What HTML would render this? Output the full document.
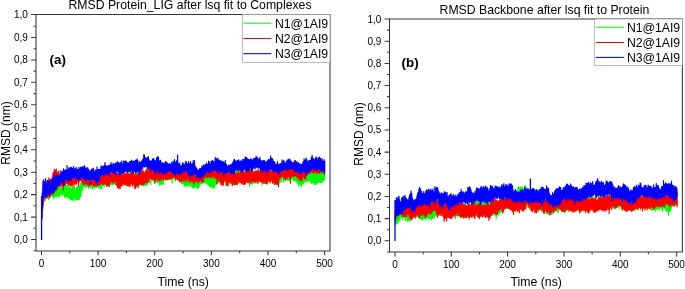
<!DOCTYPE html>
<html><head><meta charset="utf-8"><title>RMSD</title>
<style>
html,body{margin:0;padding:0;background:#fff;}
body{width:685px;height:289px;overflow:hidden;}
svg{display:block;font-family:"Liberation Sans",Arial,sans-serif;fill:#000;}
</style></head><body>
<svg width="685" height="289" viewBox="0 0 685 289">
<rect width="685" height="289" fill="#fff"/>
<g>
<polyline points="41.9,219.7 42.2,197.1 42.6,211.7 42.9,192.0 43.2,206.1 43.6,191.3 43.9,199.9 44.2,188.1 44.6,198.6 44.9,188.0 45.2,200.4 45.6,186.1 45.9,197.3 46.2,186.3 46.6,198.6 46.9,188.8 47.2,195.7 47.6,187.0 47.9,196.9 48.2,186.6 48.6,200.0 48.9,188.2 49.2,197.4 49.6,185.5 49.9,195.2 50.3,186.8 50.6,196.3 50.9,185.7 51.3,195.0 51.6,185.8 51.9,196.5 52.3,186.5 52.6,196.8 52.9,186.8 53.3,198.9 53.6,186.2 53.9,197.1 54.3,187.1 54.6,197.0 54.9,191.8 55.3,196.5 55.6,189.5 55.9,196.4 56.3,190.4 56.6,196.3 56.9,189.5 57.3,196.5 57.6,188.8 57.9,196.1 58.3,187.0 58.6,195.5 58.9,188.0 59.3,196.3 59.6,187.6 59.9,196.4 60.3,187.9 60.6,194.5 60.9,188.3 61.3,193.2 61.6,185.6 61.9,194.1 62.3,184.5 62.6,195.6 62.9,187.9 63.3,192.8 63.6,185.3 63.9,193.8 64.3,184.5 64.6,197.1 64.9,186.7 65.3,197.0 65.6,184.2 65.9,196.8 66.3,185.6 66.6,196.9 67.0,187.6 67.3,196.1 67.6,185.4 68.0,197.8 68.3,188.0 68.6,197.9 69.0,186.8 69.3,198.5 69.6,187.1 70.0,198.3 70.3,188.2 70.6,199.7 71.0,188.0 71.3,199.1 71.6,188.2 72.0,199.6 72.3,187.2 72.6,199.7 73.0,186.7 73.3,200.9 73.6,188.0 74.0,198.5 74.3,187.4 74.6,198.1 75.0,189.5 75.3,200.4 75.6,190.9 76.0,199.0 76.3,187.9 76.6,198.1 77.0,188.1 77.3,199.5 77.6,186.1 78.0,199.8 78.3,187.9 78.6,199.4 79.0,186.3 79.3,199.3 79.6,187.1 80.0,196.1 80.3,183.4 80.6,197.3 81.0,182.8 81.3,192.6 81.6,182.9 82.0,190.4 82.3,180.2 82.6,189.8 83.0,181.7 83.3,185.8 83.7,178.5 84.0,186.3 84.3,178.7 84.7,185.9 85.0,178.6 85.3,187.3 85.7,178.9 86.0,187.5 86.3,177.3 86.7,186.3 87.0,178.4 87.3,185.5 87.7,178.3 88.0,185.4 88.3,179.7 88.7,188.3 89.0,177.0 89.3,186.7 89.7,175.9 90.0,186.4 90.3,175.7 90.7,187.6 91.0,175.6 91.3,188.1 91.7,178.1 92.0,185.6 92.3,178.2 92.7,189.2 93.0,176.2 93.3,187.1 93.7,179.2 94.0,186.7 94.3,178.0 94.7,188.3 95.0,178.3 95.3,185.3 95.7,175.5 96.0,186.7 96.3,177.1 96.7,187.5 97.0,178.1 97.3,186.1 97.7,178.3 98.0,186.9 98.3,177.0 98.7,187.5 99.0,177.8 99.3,187.3 99.7,177.8 100.0,184.2 100.4,175.3 100.7,189.0 101.0,175.5 101.4,189.0 101.7,175.9 102.0,187.1 102.4,176.2 102.7,185.2 103.0,175.7 103.4,185.5 103.7,175.9 104.0,183.6 104.4,176.0 104.7,186.4 105.0,173.5 105.4,183.9 105.7,176.5 106.0,184.5 106.4,173.1 106.7,185.5 107.0,176.1 107.4,184.4 107.7,174.0 108.0,185.7 108.4,178.6 108.7,186.6 109.0,172.6 109.4,184.3 109.7,174.5 110.0,184.8 110.4,175.1 110.7,184.4 111.0,174.0 111.4,183.7 111.7,174.6 112.0,185.1 112.4,176.4 112.7,184.3 113.0,174.1 113.4,184.3 113.7,176.1 114.0,183.2 114.4,175.2 114.7,183.8 115.0,175.9 115.4,184.3 115.7,176.8 116.0,183.8 116.4,175.8 116.7,184.2 117.1,174.6 117.4,185.7 117.7,174.7 118.1,185.5 118.4,175.7 118.7,184.1 119.1,172.8 119.4,184.4 119.7,174.4 120.1,185.7 120.4,174.9 120.7,185.7 121.1,172.3 121.4,185.7 121.7,175.0 122.1,186.0 122.4,173.3 122.7,185.4 123.1,176.4 123.4,183.1 123.7,173.2 124.1,184.1 124.4,174.5 124.7,184.8 125.1,175.6 125.4,184.0 125.7,175.0 126.1,184.1 126.4,174.6 126.7,184.6 127.1,174.7 127.4,184.5 127.7,174.7 128.1,183.9 128.4,174.8 128.7,184.3 129.1,172.2 129.4,183.4 129.7,175.3 130.1,183.1 130.4,171.4 130.7,181.8 131.1,174.4 131.4,182.6 131.7,174.8 132.1,183.7 132.4,174.6 132.7,183.2 133.1,175.0 133.4,184.9 133.8,175.0 134.1,185.7 134.4,176.1 134.8,182.8 135.1,176.0 135.4,182.6 135.8,173.4 136.1,181.8 136.4,172.2 136.8,182.2 137.1,172.7 137.4,184.6 137.8,172.8 138.1,186.5 138.4,174.7 138.8,183.4 139.1,176.2 139.4,185.3 139.8,175.8 140.1,183.3 140.4,173.4 140.8,182.7 141.1,174.1 141.4,185.4 141.8,174.8 142.1,184.0 142.4,174.1 142.8,182.1 143.1,176.2 143.4,185.9 143.8,173.4 144.1,182.5 144.4,171.9 144.8,185.4 145.1,173.0 145.4,185.7 145.8,171.5 146.1,184.7 146.4,172.6 146.8,185.0 147.1,172.0 147.4,184.8 147.8,169.2 148.1,182.0 148.4,172.8 148.8,182.8 149.1,173.0 149.4,182.5 149.8,171.6 150.1,180.5 150.5,169.8 150.8,184.7 151.1,172.1 151.5,179.8 151.8,171.3 152.1,179.3 152.5,170.1 152.8,179.6 153.1,168.3 153.5,180.8 153.8,170.5 154.1,181.9 154.5,170.1 154.8,180.7 155.1,168.6 155.5,181.4 155.8,170.0 156.1,181.7 156.5,169.5 156.8,182.1 157.1,170.6 157.5,182.5 157.8,172.8 158.1,182.8 158.5,171.6 158.8,181.5 159.1,174.1 159.5,185.2 159.8,174.8 160.1,183.1 160.5,175.3 160.8,184.5 161.1,172.9 161.5,184.2 161.8,172.6 162.1,183.7 162.5,171.9 162.8,182.7 163.1,172.0 163.5,184.4 163.8,169.9 164.1,180.5 164.5,170.3 164.8,178.6 165.1,170.4 165.5,179.8 165.8,171.5 166.1,179.7 166.5,169.7 166.8,178.6 167.2,170.5 167.5,179.1 167.8,171.4 168.2,179.7 168.5,168.8 168.8,179.7 169.2,170.8 169.5,178.3 169.8,167.0 170.2,178.9 170.5,168.9 170.8,179.8 171.2,169.5 171.5,179.2 171.8,170.1 172.2,182.9 172.5,167.3 172.8,178.9 173.2,168.1 173.5,178.3 173.8,169.6 174.2,177.1 174.5,166.2 174.8,179.1 175.2,168.1 175.5,180.7 175.8,166.0 176.2,178.2 176.5,166.7 176.8,177.1 177.2,169.1 177.5,177.8 177.8,169.7 178.2,180.7 178.5,168.9 178.8,179.4 179.2,171.6 179.5,180.1 179.8,171.1 180.2,180.4 180.5,171.1 180.8,182.3 181.2,172.7 181.5,183.2 181.8,172.0 182.2,183.7 182.5,169.7 182.8,183.7 183.2,172.4 183.5,183.3 183.9,173.8 184.2,186.2 184.5,174.6 184.9,185.7 185.2,175.6 185.5,185.9 185.9,174.8 186.2,185.1 186.5,174.1 186.9,186.0 187.2,174.1 187.5,184.7 187.9,175.7 188.2,185.5 188.5,173.0 188.9,186.5 189.2,173.3 189.5,184.5 189.9,173.5 190.2,183.9 190.5,173.7 190.9,186.3 191.2,173.6 191.5,185.2 191.9,176.9 192.2,188.0 192.5,177.5 192.9,187.6 193.2,178.0 193.5,186.9 193.9,178.3 194.2,187.4 194.5,177.1 194.9,187.5 195.2,178.4 195.5,186.1 195.9,177.8 196.2,185.7 196.5,174.9 196.9,187.4 197.2,175.5 197.5,188.7 197.9,174.8 198.2,188.2 198.5,174.0 198.9,187.4 199.2,172.8 199.5,185.1 199.9,172.6 200.2,184.1 200.6,173.9 200.9,183.8 201.2,174.7 201.6,183.4 201.9,172.1 202.2,183.9 202.6,171.7 202.9,180.5 203.2,173.0 203.6,182.6 203.9,171.0 204.2,182.5 204.6,172.6 204.9,182.4 205.2,171.7 205.6,182.9 205.9,170.8 206.2,181.0 206.6,173.2 206.9,183.6 207.2,172.4 207.6,184.3 207.9,173.1 208.2,185.0 208.6,174.7 208.9,185.1 209.2,173.4 209.6,186.5 209.9,173.4 210.2,187.0 210.6,174.5 210.9,186.5 211.2,176.1 211.6,186.6 211.9,177.9 212.2,187.7 212.6,176.4 212.9,188.1 213.2,178.5 213.6,187.4 213.9,175.9 214.2,188.1 214.6,174.8 214.9,186.3 215.2,174.7 215.6,184.2 215.9,173.7 216.2,184.6 216.6,174.3 216.9,182.1 217.3,174.3 217.6,183.2 217.9,174.0 218.3,183.0 218.6,171.7 218.9,182.7 219.3,172.9 219.6,181.0 219.9,173.0 220.3,182.1 220.6,171.4 220.9,180.7 221.3,170.9 221.6,180.4 221.9,174.9 222.3,182.2 222.6,173.6 222.9,181.9 223.3,172.3 223.6,184.5 223.9,170.8 224.3,181.7 224.6,171.6 224.9,181.4 225.3,170.3 225.6,181.4 225.9,171.6 226.3,183.2 226.6,172.6 226.9,182.4 227.3,172.6 227.6,181.6 227.9,170.2 228.3,182.3 228.6,170.9 228.9,186.3 229.3,169.3 229.6,180.5 229.9,170.1 230.3,182.1 230.6,170.8 230.9,182.7 231.3,170.5 231.6,182.4 231.9,170.7 232.3,182.1 232.6,168.3 232.9,183.1 233.3,169.9 233.6,181.6 234.0,171.5 234.3,182.4 234.6,170.8 235.0,183.6 235.3,168.1 235.6,183.9 236.0,170.1 236.3,183.0 236.6,170.5 237.0,184.9 237.3,171.4 237.6,185.0 238.0,170.7 238.3,183.3 238.6,170.7 239.0,182.3 239.3,167.8 239.6,181.7 240.0,168.4 240.3,181.3 240.6,170.6 241.0,181.9 241.3,170.1 241.6,182.7 242.0,170.8 242.3,181.7 242.6,173.4 243.0,181.3 243.3,171.2 243.6,181.5 244.0,171.9 244.3,181.5 244.6,171.6 245.0,182.9 245.3,169.5 245.6,181.4 246.0,169.7 246.3,180.6 246.6,171.6 247.0,182.6 247.3,172.5 247.6,180.9 248.0,169.0 248.3,182.0 248.6,171.2 249.0,181.7 249.3,171.7 249.6,186.3 250.0,172.9 250.3,183.0 250.7,176.4 251.0,183.7 251.3,173.7 251.7,183.7 252.0,173.0 252.3,184.2 252.7,174.3 253.0,182.6 253.3,172.1 253.7,182.4 254.0,173.3 254.3,183.6 254.7,171.8 255.0,181.2 255.3,169.7 255.7,180.0 256.0,171.3 256.3,182.7 256.7,170.9 257.0,182.6 257.3,173.2 257.7,183.1 258.0,172.8 258.3,182.9 258.7,173.8 259.0,180.0 259.3,173.9 259.7,181.3 260.0,172.8 260.3,182.0 260.7,172.4 261.0,181.2 261.3,172.9 261.7,182.5 262.0,170.5 262.3,184.8 262.7,175.1 263.0,182.3 263.3,172.2 263.7,183.4 264.0,169.7 264.3,182.5 264.7,173.9 265.0,181.5 265.3,173.3 265.7,183.1 266.0,172.6 266.3,182.8 266.7,171.0 267.0,180.1 267.4,172.9 267.7,184.0 268.0,171.3 268.4,179.8 268.7,172.0 269.0,179.0 269.4,171.6 269.7,183.2 270.0,170.3 270.4,182.8 270.7,172.7 271.0,181.1 271.4,172.1 271.7,180.8 272.0,170.8 272.4,182.8 272.7,172.2 273.0,182.5 273.4,169.2 273.7,182.0 274.0,173.1 274.4,183.0 274.7,172.1 275.0,182.1 275.4,170.2 275.7,183.3 276.0,171.9 276.4,184.4 276.7,170.8 277.0,182.7 277.4,171.1 277.7,184.4 278.0,171.0 278.4,183.8 278.7,170.4 279.0,180.9 279.4,172.7 279.7,183.3 280.0,171.7 280.4,181.8 280.7,168.1 281.0,181.5 281.4,169.2 281.7,178.9 282.0,168.0 282.4,179.1 282.7,169.9 283.0,179.0 283.4,169.1 283.7,182.5 284.1,166.7 284.4,179.5 284.7,168.9 285.1,180.2 285.4,169.7 285.7,179.4 286.1,169.7 286.4,178.8 286.7,170.7 287.1,179.9 287.4,169.6 287.7,180.5 288.1,169.5 288.4,180.2 288.7,168.5 289.1,179.9 289.4,168.8 289.7,180.4 290.1,169.9 290.4,177.5 290.7,168.1 291.1,178.9 291.4,168.4 291.7,177.9 292.1,169.1 292.4,179.3 292.7,170.2 293.1,181.1 293.4,169.2 293.7,180.6 294.1,168.3 294.4,180.8 294.7,171.2 295.1,181.0 295.4,169.0 295.7,178.7 296.1,167.5 296.4,181.3 296.7,171.1 297.1,183.5 297.4,170.3 297.7,181.9 298.1,169.8 298.4,186.0 298.7,171.6 299.1,182.0 299.4,173.3 299.7,184.3 300.1,174.8 300.4,184.8 300.8,175.7 301.1,185.7 301.4,174.5 301.8,186.7 302.1,174.9 302.4,182.7 302.8,176.2 303.1,183.9 303.4,172.4 303.8,183.5 304.1,171.6 304.4,181.7 304.8,171.8 305.1,179.2 305.4,172.0 305.8,181.2 306.1,171.1 306.4,181.7 306.8,171.9 307.1,181.9 307.4,171.7 307.8,180.8 308.1,170.7 308.4,180.4 308.8,168.6 309.1,180.9 309.4,170.1 309.8,180.4 310.1,168.7 310.4,181.4 310.8,171.5 311.1,183.0 311.4,173.2 311.8,183.5 312.1,171.0 312.4,183.3 312.8,169.2 313.1,182.6 313.4,173.2 313.8,181.6 314.1,170.7 314.4,184.0 314.8,169.3 315.1,184.5 315.4,169.6 315.8,184.8 316.1,172.3 316.4,183.8 316.8,172.8 317.1,182.8 317.5,171.1 317.8,182.7 318.1,175.1 318.5,182.2 318.8,173.1 319.1,182.6 319.5,171.9 319.8,181.5 320.1,172.9 320.5,182.5 320.8,172.1 321.1,182.7 321.5,171.4 321.8,178.5 322.1,170.5 322.5,182.4 322.8,168.4 323.1,181.1 323.5,169.4 323.8,180.1 324.1,170.1 324.5,179.6 324.8,169.9" fill="none" stroke="#00ff00" stroke-width="1.15" stroke-linejoin="round"/>
<polyline points="41.9,218.7 42.2,196.7 42.6,209.6 42.9,191.5 43.2,204.2 43.6,187.0 43.9,201.6 44.2,183.3 44.6,198.0 44.9,182.7 45.2,197.9 45.6,182.6 45.9,196.3 46.2,183.3 46.6,196.8 46.9,180.7 47.2,197.8 47.6,180.5 47.9,195.8 48.2,180.1 48.6,195.3 48.9,177.7 49.2,197.8 49.6,182.5 49.9,197.2 50.3,179.1 50.6,195.3 50.9,180.1 51.3,193.4 51.6,179.2 51.9,193.8 52.3,177.2 52.6,194.5 52.9,173.3 53.3,193.7 53.6,172.2 53.9,192.9 54.3,169.3 54.6,188.7 54.9,169.9 55.3,189.9 55.6,170.7 55.9,188.2 56.3,169.1 56.6,189.4 56.9,172.2 57.3,188.9 57.6,174.0 57.9,186.2 58.3,171.3 58.6,186.6 58.9,171.3 59.3,185.7 59.6,177.1 59.9,186.1 60.3,174.4 60.6,186.3 60.9,173.1 61.3,184.6 61.6,172.9 61.9,184.9 62.3,173.3 62.6,185.3 62.9,173.4 63.3,190.1 63.6,174.9 63.9,185.6 64.3,175.4 64.6,185.0 64.9,171.8 65.3,183.7 65.6,170.6 65.9,183.9 66.3,172.0 66.6,183.0 67.0,174.2 67.3,183.4 67.6,173.7 68.0,185.1 68.3,175.3 68.6,185.1 69.0,174.1 69.3,184.9 69.6,170.8 70.0,184.2 70.3,172.9 70.6,186.2 71.0,172.3 71.3,185.7 71.6,174.1 72.0,185.6 72.3,173.0 72.6,185.1 73.0,172.0 73.3,182.1 73.6,169.3 74.0,186.7 74.3,173.8 74.6,181.9 75.0,172.2 75.3,183.9 75.6,171.7 76.0,184.1 76.3,170.5 76.6,183.9 77.0,172.7 77.3,181.7 77.6,169.9 78.0,181.7 78.3,172.2 78.6,185.9 79.0,171.5 79.3,181.6 79.6,172.6 80.0,179.6 80.3,172.0 80.6,180.4 81.0,169.8 81.3,180.7 81.6,170.8 82.0,182.6 82.3,170.2 82.6,182.8 83.0,171.0 83.3,185.0 83.7,170.5 84.0,183.4 84.3,170.9 84.7,184.0 85.0,169.7 85.3,184.6 85.7,169.2 86.0,182.7 86.3,167.5 86.7,184.1 87.0,170.9 87.3,183.6 87.7,172.1 88.0,186.4 88.3,174.1 88.7,184.3 89.0,172.8 89.3,185.8 89.7,172.8 90.0,185.0 90.3,174.1 90.7,184.4 91.0,173.6 91.3,184.4 91.7,173.0 92.0,184.7 92.3,170.8 92.7,183.7 93.0,174.0 93.3,186.2 93.7,174.5 94.0,185.3 94.3,173.1 94.7,186.0 95.0,171.5 95.3,185.0 95.7,175.6 96.0,186.2 96.3,175.9 96.7,182.7 97.0,174.0 97.3,185.3 97.7,174.8 98.0,185.6 98.3,172.6 98.7,183.8 99.0,175.4 99.3,185.1 99.7,172.6 100.0,184.8 100.4,173.0 100.7,182.6 101.0,174.0 101.4,184.0 101.7,172.7 102.0,183.3 102.4,168.9 102.7,184.2 103.0,174.0 103.4,184.5 103.7,171.7 104.0,183.2 104.4,173.5 104.7,183.6 105.0,172.3 105.4,184.5 105.7,173.9 106.0,184.1 106.4,173.2 106.7,186.3 107.0,173.0 107.4,184.5 107.7,170.3 108.0,186.1 108.4,172.8 108.7,183.2 109.0,171.9 109.4,186.6 109.7,173.2 110.0,182.8 110.4,173.0 110.7,182.0 111.0,172.0 111.4,181.4 111.7,172.3 112.0,182.0 112.4,170.7 112.7,182.9 113.0,171.7 113.4,182.2 113.7,171.3 114.0,182.6 114.4,169.0 114.7,180.6 115.0,172.6 115.4,180.4 115.7,172.0 116.0,184.9 116.4,173.9 116.7,184.7 117.1,174.3 117.4,187.4 117.7,174.3 118.1,187.1 118.4,174.6 118.7,188.8 119.1,173.9 119.4,187.0 119.7,173.8 120.1,188.4 120.4,171.7 120.7,186.3 121.1,174.8 121.4,184.4 121.7,174.7 122.1,185.7 122.4,172.9 122.7,182.3 123.1,174.9 123.4,183.6 123.7,175.9 124.1,184.9 124.4,170.4 124.7,183.9 125.1,175.7 125.4,184.1 125.7,173.3 126.1,185.3 126.4,175.5 126.7,184.1 127.1,171.6 127.4,185.7 127.7,171.1 128.1,185.1 128.4,173.9 128.7,185.7 129.1,173.8 129.4,186.3 129.7,175.0 130.1,186.6 130.4,173.8 130.7,184.0 131.1,172.5 131.4,181.5 131.7,172.5 132.1,184.8 132.4,170.5 132.7,186.3 133.1,169.0 133.4,184.1 133.8,173.9 134.1,184.3 134.4,174.7 134.8,188.2 135.1,175.3 135.4,188.6 135.8,173.3 136.1,186.7 136.4,174.7 136.8,185.3 137.1,174.7 137.4,185.9 137.8,175.2 138.1,188.0 138.4,172.4 138.8,184.7 139.1,172.7 139.4,183.4 139.8,172.0 140.1,184.1 140.4,174.2 140.8,184.5 141.1,172.8 141.4,183.9 141.8,169.3 142.1,185.1 142.4,173.0 142.8,184.6 143.1,170.0 143.4,184.6 143.8,172.3 144.1,184.4 144.4,172.8 144.8,183.2 145.1,173.0 145.4,182.3 145.8,170.7 146.1,182.6 146.4,168.9 146.8,183.0 147.1,170.6 147.4,181.6 147.8,172.2 148.1,182.2 148.4,167.8 148.8,180.6 149.1,168.0 149.4,178.2 149.8,167.4 150.1,178.0 150.5,167.1 150.8,178.4 151.1,167.1 151.5,179.1 151.8,168.2 152.1,179.6 152.5,167.2 152.8,179.3 153.1,166.2 153.5,179.2 153.8,167.4 154.1,179.4 154.5,168.2 154.8,183.5 155.1,168.2 155.5,181.2 155.8,168.6 156.1,179.5 156.5,169.1 156.8,178.1 157.1,167.6 157.5,178.4 157.8,168.9 158.1,180.7 158.5,165.7 158.8,180.5 159.1,170.3 159.5,179.8 159.8,167.5 160.1,180.6 160.5,168.9 160.8,178.5 161.1,169.6 161.5,180.1 161.8,169.1 162.1,179.8 162.5,168.7 162.8,178.9 163.1,168.5 163.5,179.5 163.8,169.3 164.1,177.6 164.5,168.3 164.8,178.4 165.1,169.7 165.5,179.3 165.8,169.0 166.1,180.1 166.5,170.3 166.8,178.3 167.2,168.6 167.5,179.6 167.8,168.5 168.2,178.8 168.5,168.9 168.8,178.8 169.2,167.1 169.5,179.1 169.8,166.1 170.2,178.7 170.5,166.7 170.8,178.7 171.2,168.4 171.5,177.4 171.8,167.6 172.2,176.7 172.5,168.0 172.8,177.8 173.2,166.5 173.5,176.1 173.8,164.8 174.2,177.4 174.5,167.2 174.8,177.2 175.2,168.0 175.5,179.5 175.8,166.6 176.2,177.8 176.5,167.3 176.8,178.9 177.2,166.4 177.5,179.9 177.8,168.4 178.2,178.2 178.5,165.8 178.8,179.2 179.2,164.7 179.5,181.6 179.8,167.4 180.2,179.4 180.5,167.1 180.8,181.4 181.2,169.5 181.5,181.2 181.8,168.7 182.2,181.3 182.5,171.2 182.8,180.7 183.2,169.0 183.5,180.3 183.9,168.6 184.2,180.7 184.5,170.9 184.9,180.0 185.2,170.5 185.5,179.6 185.9,171.9 186.2,182.0 186.5,170.4 186.9,179.7 187.2,171.3 187.5,177.6 187.9,170.3 188.2,179.2 188.5,167.2 188.9,181.8 189.2,172.1 189.5,178.7 189.9,167.9 190.2,181.4 190.5,167.2 190.9,182.1 191.2,169.1 191.5,180.8 191.9,171.6 192.2,180.0 192.5,171.3 192.9,181.6 193.2,170.2 193.5,182.7 193.9,171.1 194.2,184.0 194.5,170.6 194.9,180.9 195.2,169.4 195.5,181.0 195.9,169.5 196.2,181.8 196.5,170.1 196.9,181.2 197.2,169.0 197.5,181.3 197.9,171.0 198.2,183.2 198.5,169.8 198.9,178.9 199.2,171.2 199.5,181.5 199.9,168.3 200.2,180.3 200.6,169.0 200.9,180.4 201.2,169.8 201.6,182.1 201.9,170.8 202.2,180.7 202.6,169.5 202.9,182.1 203.2,168.8 203.6,181.5 203.9,168.9 204.2,177.8 204.6,166.4 204.9,176.2 205.2,164.9 205.6,176.5 205.9,167.2 206.2,177.7 206.6,167.8 206.9,177.2 207.2,166.2 207.6,177.0 207.9,168.1 208.2,176.6 208.6,167.3 208.9,176.3 209.2,165.6 209.6,177.8 209.9,166.2 210.2,176.8 210.6,166.5 210.9,178.0 211.2,166.9 211.6,175.7 211.9,166.9 212.2,176.5 212.6,167.6 212.9,178.0 213.2,165.6 213.6,175.7 213.9,167.5 214.2,176.0 214.6,166.6 214.9,178.6 215.2,166.7 215.6,177.4 215.9,166.7 216.2,179.2 216.6,168.2 216.9,184.0 217.3,171.6 217.6,178.9 217.9,170.6 218.3,179.2 218.6,170.1 218.9,181.3 219.3,169.7 219.6,178.6 219.9,168.7 220.3,182.2 220.6,171.5 220.9,184.7 221.3,171.9 221.6,184.0 221.9,173.1 222.3,185.7 222.6,173.1 222.9,184.5 223.3,173.6 223.6,184.7 223.9,172.8 224.3,180.6 224.6,173.9 224.9,180.0 225.3,171.4 225.6,180.9 225.9,172.7 226.3,185.8 226.6,170.8 226.9,184.2 227.3,169.9 227.6,185.4 227.9,173.2 228.3,183.2 228.6,174.3 228.9,180.4 229.3,173.9 229.6,181.8 229.9,172.7 230.3,182.7 230.6,172.5 230.9,183.7 231.3,171.7 231.6,180.0 231.9,171.7 232.3,185.7 232.6,172.2 232.9,184.4 233.3,171.3 233.6,181.9 234.0,170.6 234.3,184.8 234.6,171.4 235.0,184.4 235.3,173.7 235.6,179.6 236.0,174.0 236.3,184.4 236.6,172.9 237.0,184.1 237.3,174.2 237.6,183.8 238.0,172.9 238.3,180.6 238.6,171.6 239.0,180.8 239.3,173.9 239.6,182.7 240.0,173.3 240.3,182.1 240.6,171.0 241.0,182.7 241.3,172.2 241.6,184.0 242.0,171.5 242.3,183.0 242.6,171.1 243.0,183.8 243.3,173.9 243.6,184.5 244.0,172.8 244.3,183.9 244.6,173.5 245.0,184.3 245.3,171.9 245.6,183.5 246.0,170.8 246.3,181.7 246.6,171.2 247.0,180.1 247.3,170.6 247.6,182.4 248.0,170.6 248.3,182.7 248.6,172.0 249.0,182.6 249.3,170.4 249.6,181.4 250.0,169.5 250.3,180.4 250.7,169.9 251.0,183.1 251.3,170.1 251.7,182.0 252.0,172.2 252.3,180.7 252.7,169.8 253.0,181.3 253.3,172.3 253.7,180.4 254.0,172.0 254.3,181.2 254.7,171.5 255.0,182.0 255.3,172.8 255.7,182.2 256.0,171.6 256.3,180.4 256.7,171.4 257.0,180.9 257.3,170.4 257.7,183.2 258.0,169.6 258.3,179.4 258.7,171.4 259.0,181.2 259.3,171.0 259.7,180.8 260.0,172.0 260.3,181.6 260.7,171.2 261.0,181.0 261.3,170.7 261.7,181.9 262.0,173.2 262.3,182.8 262.7,172.2 263.0,180.5 263.3,170.9 263.7,182.9 264.0,168.4 264.3,182.8 264.7,169.1 265.0,183.1 265.3,172.8 265.7,183.3 266.0,171.3 266.3,183.5 266.7,172.5 267.0,184.0 267.4,171.2 267.7,182.3 268.0,169.1 268.4,181.2 268.7,172.4 269.0,179.0 269.4,171.0 269.7,181.0 270.0,169.6 270.4,182.1 270.7,171.0 271.0,180.2 271.4,171.4 271.7,178.5 272.0,169.3 272.4,183.2 272.7,171.9 273.0,182.3 273.4,172.5 273.7,182.1 274.0,171.2 274.4,184.5 274.7,170.4 275.0,183.2 275.4,171.8 275.7,184.1 276.0,172.2 276.4,183.2 276.7,173.2 277.0,184.5 277.4,173.9 277.7,182.5 278.0,174.8 278.4,187.1 278.7,172.8 279.0,180.1 279.4,164.9 279.7,178.1 280.0,168.3 280.4,178.0 280.7,166.2 281.0,176.3 281.4,168.4 281.7,176.2 282.0,166.3 282.4,176.3 282.7,166.8 283.0,176.9 283.4,163.6 283.7,178.0 284.1,167.6 284.4,176.7 284.7,166.3 285.1,179.9 285.4,164.3 285.7,179.7 286.1,165.3 286.4,177.3 286.7,166.0 287.1,177.0 287.4,164.8 287.7,178.4 288.1,167.4 288.4,176.7 288.7,168.5 289.1,176.1 289.4,165.3 289.7,177.8 290.1,167.8 290.4,183.3 290.7,168.1 291.1,176.2 291.4,169.8 291.7,176.9 292.1,165.8 292.4,175.9 292.7,169.4 293.1,176.3 293.4,168.2 293.7,175.2 294.1,163.7 294.4,176.5 294.7,160.3 295.1,175.6 295.4,161.1 295.7,175.3 296.1,165.3 296.4,176.6 296.7,164.7 297.1,177.7 297.4,165.8 297.7,176.6 298.1,168.2 298.4,177.9 298.7,165.3 299.1,179.9 299.4,165.3 299.7,178.8 300.1,169.9 300.4,179.5 300.8,167.8 301.1,181.2 301.4,166.7 301.8,179.8 302.1,167.6 302.4,180.1 302.8,166.4 303.1,176.8 303.4,165.4 303.8,176.4 304.1,166.8 304.4,178.2 304.8,168.0 305.1,178.3 305.4,167.5 305.8,179.3 306.1,166.9 306.4,175.8 306.8,166.2 307.1,175.3 307.4,161.8 307.8,173.0 308.1,161.1 308.4,172.9 308.8,163.5 309.1,173.8 309.4,161.7 309.8,172.3 310.1,162.8 310.4,173.1 310.8,163.4 311.1,171.4 311.4,160.3 311.8,172.0 312.1,160.1 312.4,172.1 312.8,158.9 313.1,172.2 313.4,158.5 313.8,173.3 314.1,162.6 314.4,173.2 314.8,160.8 315.1,171.1 315.4,159.8 315.8,171.1 316.1,161.2 316.4,172.6 316.8,159.3 317.1,173.5 317.5,161.1 317.8,172.2 318.1,161.5 318.5,172.9 318.8,160.7 319.1,172.2 319.5,162.4 319.8,173.6 320.1,161.4 320.5,171.4 320.8,161.6 321.1,169.8 321.5,163.7 321.8,172.8 322.1,161.8 322.5,172.0 322.8,161.4 323.1,172.3 323.5,162.0 323.8,170.4 324.1,162.8 324.5,171.1 324.8,165.2" fill="none" stroke="#ff0000" stroke-width="1.15" stroke-linejoin="round"/>
<polyline points="41.9,218.4 42.2,193.0 42.6,208.1 42.9,181.3 43.2,198.8 43.6,179.8 43.9,196.4 44.2,183.1 44.6,196.6 44.9,181.4 45.2,196.7 45.6,178.5 45.9,196.1 46.2,183.7 46.6,196.7 46.9,184.5 47.2,193.6 47.6,180.6 47.9,195.4 48.2,181.7 48.6,194.7 48.9,182.8 49.2,194.5 49.6,180.5 49.9,193.7 50.3,182.8 50.6,193.7 50.9,183.5 51.3,193.3 51.6,179.5 51.9,192.1 52.3,180.2 52.6,192.7 52.9,178.6 53.3,191.7 53.6,177.9 53.9,190.5 54.3,174.2 54.6,192.1 54.9,176.6 55.3,187.9 55.6,175.8 55.9,190.0 56.3,174.7 56.6,187.5 56.9,177.4 57.3,186.3 57.6,176.4 57.9,183.8 58.3,175.8 58.6,186.0 58.9,175.6 59.3,185.5 59.6,175.7 59.9,183.3 60.3,173.8 60.6,180.3 60.9,170.5 61.3,182.1 61.6,172.8 61.9,183.0 62.3,171.9 62.6,181.0 62.9,171.6 63.3,183.1 63.6,168.7 63.9,185.7 64.3,171.2 64.6,181.8 64.9,170.4 65.3,179.3 65.6,169.9 65.9,178.9 66.3,170.7 66.6,178.1 67.0,165.6 67.3,179.7 67.6,169.7 68.0,180.8 68.3,169.3 68.6,180.5 69.0,167.7 69.3,178.5 69.6,168.9 70.0,180.7 70.3,167.3 70.6,179.8 71.0,169.0 71.3,179.8 71.6,167.4 72.0,177.4 72.3,168.6 72.6,177.4 73.0,168.4 73.3,178.0 73.6,166.6 74.0,177.1 74.3,169.6 74.6,177.3 75.0,168.4 75.3,178.6 75.6,170.0 76.0,178.2 76.3,167.4 76.6,178.6 77.0,170.4 77.3,178.6 77.6,169.3 78.0,178.2 78.3,170.2 78.6,179.7 79.0,167.4 79.3,179.8 79.6,169.8 80.0,180.0 80.3,167.8 80.6,177.1 81.0,167.1 81.3,176.9 81.6,168.3 82.0,177.7 82.3,166.8 82.6,178.2 83.0,166.8 83.3,177.4 83.7,169.2 84.0,177.8 84.3,165.6 84.7,179.7 85.0,167.0 85.3,179.6 85.7,168.6 86.0,179.8 86.3,168.5 86.7,180.1 87.0,171.4 87.3,178.9 87.7,167.7 88.0,178.7 88.3,169.0 88.7,179.5 89.0,170.1 89.3,179.3 89.7,172.2 90.0,183.7 90.3,171.1 90.7,178.5 91.0,170.3 91.3,179.3 91.7,169.0 92.0,179.6 92.3,169.5 92.7,177.1 93.0,168.1 93.3,179.2 93.7,169.0 94.0,179.1 94.3,171.6 94.7,179.3 95.0,171.6 95.3,180.6 95.7,169.9 96.0,181.8 96.3,170.7 96.7,181.3 97.0,166.8 97.3,184.6 97.7,169.6 98.0,181.6 98.3,170.1 98.7,181.4 99.0,169.4 99.3,179.1 99.7,169.5 100.0,177.7 100.4,169.1 100.7,175.4 101.0,165.9 101.4,174.4 101.7,167.4 102.0,175.0 102.4,166.7 102.7,174.5 103.0,166.0 103.4,175.7 103.7,166.7 104.0,174.6 104.4,165.3 104.7,174.9 105.0,162.6 105.4,173.7 105.7,165.5 106.0,172.6 106.4,167.4 106.7,172.7 107.0,166.1 107.4,174.6 107.7,167.4 108.0,173.6 108.4,165.1 108.7,172.4 109.0,166.0 109.4,176.1 109.7,165.5 110.0,172.3 110.4,164.7 110.7,170.8 111.0,162.6 111.4,171.4 111.7,164.7 112.0,171.8 112.4,165.7 112.7,173.0 113.0,163.6 113.4,171.8 113.7,163.3 114.0,172.6 114.4,164.9 114.7,173.7 115.0,164.1 115.4,172.0 115.7,163.1 116.0,174.9 116.4,163.0 116.7,170.1 117.1,162.6 117.4,171.1 117.7,161.8 118.1,174.6 118.4,162.5 118.7,170.6 119.1,163.1 119.4,172.6 119.7,163.9 120.1,174.3 120.4,162.6 120.7,174.0 121.1,164.2 121.4,172.4 121.7,160.8 122.1,173.3 122.4,163.9 122.7,169.8 123.1,164.0 123.4,173.0 123.7,161.0 124.1,171.8 124.4,161.3 124.7,170.0 125.1,161.4 125.4,171.4 125.7,160.8 126.1,170.9 126.4,161.5 126.7,170.4 127.1,162.9 127.4,172.5 127.7,163.3 128.1,171.4 128.4,162.8 128.7,171.5 129.1,164.3 129.4,171.3 129.7,161.3 130.1,171.2 130.4,161.9 130.7,171.2 131.1,161.0 131.4,170.4 131.7,160.2 132.1,171.9 132.4,161.9 132.7,171.7 133.1,161.2 133.4,173.4 133.8,161.2 134.1,169.3 134.4,162.9 134.8,171.4 135.1,160.7 135.4,173.3 135.8,160.0 136.1,171.1 136.4,160.8 136.8,172.3 137.1,158.9 137.4,172.0 137.8,160.4 138.1,171.0 138.4,163.2 138.8,170.3 139.1,162.8 139.4,174.9 139.8,161.4 140.1,172.4 140.4,163.1 140.8,171.1 141.1,162.1 141.4,169.5 141.8,161.1 142.1,168.0 142.4,159.9 142.8,168.4 143.1,159.2 143.4,166.3 143.8,154.5 144.1,166.4 144.4,155.1 144.8,167.2 145.1,157.7 145.4,165.6 145.8,157.7 146.1,166.5 146.4,157.9 146.8,166.4 147.1,158.7 147.4,168.2 147.8,157.3 148.1,168.6 148.4,156.6 148.8,167.0 149.1,159.8 149.4,168.1 149.8,160.9 150.1,168.3 150.5,161.4 150.8,169.2 151.1,161.6 151.5,170.6 151.8,160.5 152.1,168.0 152.5,159.4 152.8,169.3 153.1,158.3 153.5,170.9 153.8,158.7 154.1,169.2 154.5,160.2 154.8,171.9 155.1,161.0 155.5,174.0 155.8,160.9 156.1,172.6 156.5,157.8 156.8,171.8 157.1,157.7 157.5,169.1 157.8,156.6 158.1,167.9 158.5,157.2 158.8,173.2 159.1,162.0 159.5,171.7 159.8,160.8 160.1,170.7 160.5,160.2 160.8,172.0 161.1,161.9 161.5,172.2 161.8,164.4 162.1,173.6 162.5,163.1 162.8,174.5 163.1,162.7 163.5,171.0 163.8,163.9 164.1,172.3 164.5,164.3 164.8,174.1 165.1,162.4 165.5,173.0 165.8,161.6 166.1,172.5 166.5,162.2 166.8,172.9 167.2,162.9 167.5,169.5 167.8,165.0 168.2,171.6 168.5,164.3 168.8,170.8 169.2,163.8 169.5,170.6 169.8,163.5 170.2,170.5 170.5,164.1 170.8,171.1 171.2,165.8 171.5,172.1 171.8,162.1 172.2,170.1 172.5,163.5 172.8,172.4 173.2,161.3 173.5,174.1 173.8,163.8 174.2,174.4 174.5,159.5 174.8,173.1 175.2,162.2 175.5,176.0 175.8,163.4 176.2,172.6 176.5,160.8 176.8,172.4 177.2,162.9 177.5,174.2 177.8,163.3 178.2,171.5 178.5,163.3 178.8,173.1 179.2,164.6 179.5,173.6 179.8,163.0 180.2,174.6 180.5,166.8 180.8,170.7 181.2,165.6 181.5,173.4 181.8,165.5 182.2,171.5 182.5,162.9 182.8,171.0 183.2,163.2 183.5,170.7 183.9,164.6 184.2,173.1 184.5,165.8 184.9,169.7 185.2,163.2 185.5,170.0 185.9,161.4 186.2,171.4 186.5,162.1 186.9,170.3 187.2,165.4 187.5,171.1 187.9,164.1 188.2,175.1 188.5,161.7 188.9,174.9 189.2,163.3 189.5,173.9 189.9,165.5 190.2,178.0 190.5,161.6 190.9,174.3 191.2,166.2 191.5,174.6 191.9,163.7 192.2,175.4 192.5,163.9 192.9,176.0 193.2,160.7 193.5,172.3 193.9,163.8 194.2,173.9 194.5,162.5 194.9,173.7 195.2,166.1 195.5,174.3 195.9,167.9 196.2,175.0 196.5,167.7 196.9,177.5 197.2,171.1 197.5,177.8 197.9,170.7 198.2,176.3 198.5,171.5 198.9,177.2 199.2,169.7 199.5,176.5 199.9,168.6 200.2,178.7 200.6,169.4 200.9,177.1 201.2,168.4 201.6,176.4 201.9,166.0 202.2,176.1 202.6,167.5 202.9,175.2 203.2,165.5 203.6,176.0 203.9,164.8 204.2,174.0 204.6,166.2 204.9,174.6 205.2,165.2 205.6,173.5 205.9,164.4 206.2,172.4 206.6,162.9 206.9,171.6 207.2,164.8 207.6,170.5 207.9,164.6 208.2,171.3 208.6,161.2 208.9,173.0 209.2,161.8 209.6,171.6 209.9,163.6 210.2,170.3 210.6,163.9 210.9,172.2 211.2,161.1 211.6,171.6 211.9,161.8 212.2,169.8 212.6,160.4 212.9,170.6 213.2,161.3 213.6,168.5 213.9,162.6 214.2,170.1 214.6,161.8 214.9,169.1 215.2,157.4 215.6,169.3 215.9,159.1 216.2,171.6 216.6,158.5 216.9,171.1 217.3,160.4 217.6,172.4 217.9,158.1 218.3,168.9 218.6,160.2 218.9,173.5 219.3,160.0 219.6,169.0 219.9,161.0 220.3,171.8 220.6,160.7 220.9,171.0 221.3,162.1 221.6,171.8 221.9,161.0 222.3,172.3 222.6,162.6 222.9,171.4 223.3,161.7 223.6,175.6 223.9,162.3 224.3,173.2 224.6,164.0 224.9,171.7 225.3,160.4 225.6,173.1 225.9,164.9 226.3,171.4 226.6,164.3 226.9,172.0 227.3,166.3 227.6,172.7 227.9,166.5 228.3,172.1 228.6,165.3 228.9,171.8 229.3,165.5 229.6,171.6 229.9,165.1 230.3,172.1 230.6,164.7 230.9,173.3 231.3,165.0 231.6,173.5 231.9,163.9 232.3,171.9 232.6,163.2 232.9,173.5 233.3,161.4 233.6,174.2 234.0,159.6 234.3,172.3 234.6,159.4 235.0,170.3 235.3,161.1 235.6,169.6 236.0,160.8 236.3,170.4 236.6,161.5 237.0,168.4 237.3,160.7 237.6,170.0 238.0,160.6 238.3,170.2 238.6,159.7 239.0,170.0 239.3,161.2 239.6,168.4 240.0,162.1 240.3,170.6 240.6,160.9 241.0,169.2 241.3,161.0 241.6,170.8 242.0,162.4 242.3,171.9 242.6,159.5 243.0,172.1 243.3,159.2 243.6,169.8 244.0,161.3 244.3,169.5 244.6,159.4 245.0,169.5 245.3,156.8 245.6,170.3 246.0,157.6 246.3,170.4 246.6,157.6 247.0,171.4 247.3,158.7 247.6,169.7 248.0,159.0 248.3,168.9 248.6,159.5 249.0,171.5 249.3,159.7 249.6,168.1 250.0,160.2 250.3,167.2 250.7,158.7 251.0,169.4 251.3,160.7 251.7,169.8 252.0,159.1 252.3,170.8 252.7,160.7 253.0,168.1 253.3,159.9 253.7,168.2 254.0,158.2 254.3,165.2 254.7,158.6 255.0,168.8 255.3,158.3 255.7,165.1 256.0,156.5 256.3,167.8 256.7,156.6 257.0,166.7 257.3,158.6 257.7,167.1 258.0,158.0 258.3,168.1 258.7,161.0 259.0,167.9 259.3,159.1 259.7,168.0 260.0,157.2 260.3,170.7 260.7,160.5 261.0,170.2 261.3,160.6 261.7,170.1 262.0,161.9 262.3,172.3 262.7,161.0 263.0,171.1 263.3,160.4 263.7,169.6 264.0,160.4 264.3,167.6 264.7,160.9 265.0,171.7 265.3,162.6 265.7,170.0 266.0,162.0 266.3,170.5 266.7,161.3 267.0,173.2 267.4,161.3 267.7,170.8 268.0,159.8 268.4,171.0 268.7,159.5 269.0,169.9 269.4,160.2 269.7,168.8 270.0,159.2 270.4,169.4 270.7,155.8 271.0,169.2 271.4,158.5 271.7,169.0 272.0,158.4 272.4,170.0 272.7,159.1 273.0,170.6 273.4,161.0 273.7,171.5 274.0,162.9 274.4,170.6 274.7,161.9 275.0,171.6 275.4,164.5 275.7,171.2 276.0,164.3 276.4,171.0 276.7,164.8 277.0,172.3 277.4,161.6 277.7,173.1 278.0,163.8 278.4,172.9 278.7,164.9 279.0,174.7 279.4,165.2 279.7,172.4 280.0,163.6 280.4,171.7 280.7,163.5 281.0,170.4 281.4,163.5 281.7,170.8 282.0,159.9 282.4,169.7 282.7,162.3 283.0,170.6 283.4,161.0 283.7,170.1 284.1,160.7 284.4,169.4 284.7,163.4 285.1,168.5 285.4,163.6 285.7,168.4 286.1,161.4 286.4,170.4 286.7,163.2 287.1,168.9 287.4,159.8 287.7,170.6 288.1,160.5 288.4,169.3 288.7,159.3 289.1,169.5 289.4,159.1 289.7,167.5 290.1,159.9 290.4,168.0 290.7,161.5 291.1,168.8 291.4,161.3 291.7,169.0 292.1,162.5 292.4,168.2 292.7,163.2 293.1,169.1 293.4,162.3 293.7,169.7 294.1,163.2 294.4,168.5 294.7,162.3 295.1,172.2 295.4,160.7 295.7,171.7 296.1,162.5 296.4,172.6 296.7,161.6 297.1,170.1 297.4,163.8 297.7,171.1 298.1,162.6 298.4,172.6 298.7,163.0 299.1,170.7 299.4,164.3 299.7,171.8 300.1,163.9 300.4,173.7 300.8,164.8 301.1,173.8 301.4,164.7 301.8,171.0 302.1,164.6 302.4,168.8 302.8,162.6 303.1,172.0 303.4,161.5 303.8,170.7 304.1,158.7 304.4,169.0 304.8,160.5 305.1,172.9 305.4,160.0 305.8,170.4 306.1,157.8 306.4,174.8 306.8,159.5 307.1,172.3 307.4,162.2 307.8,172.0 308.1,162.4 308.4,172.4 308.8,160.9 309.1,171.6 309.4,160.4 309.8,170.1 310.1,161.1 310.4,170.7 310.8,159.9 311.1,169.7 311.4,157.5 311.8,168.8 312.1,155.2 312.4,168.8 312.8,158.1 313.1,168.2 313.4,158.7 313.8,168.6 314.1,159.7 314.4,167.5 314.8,159.6 315.1,170.2 315.4,158.0 315.8,168.2 316.1,156.7 316.4,170.7 316.8,158.8 317.1,170.4 317.5,160.4 317.8,167.6 318.1,157.5 318.5,169.0 318.8,159.1 319.1,166.5 319.5,157.0 319.8,169.3 320.1,158.2 320.5,170.8 320.8,158.6 321.1,170.6 321.5,160.9 321.8,170.7 322.1,158.9 322.5,168.8 322.8,161.2 323.1,170.8 323.5,161.5 323.8,170.4 324.1,159.6 324.5,173.9 324.8,160.8" fill="none" stroke="#0000ff" stroke-width="1.15" stroke-linejoin="round"/>
<path d="M41.6 239.9V196M177.6 154.8V168M194.2 159.9V170" stroke="#0000ff" stroke-width="1.3" fill="none"/>
<path d="M36.0 14.5H330.0V250.95H36.0Z" fill="none" stroke="#383838" stroke-width="1.05"/>
<path d="M31.1 239.5H36.0M33.6 228.3H36.0M31.1 217.1H36.0M33.6 205.8H36.0M31.1 194.6H36.0M33.6 183.4H36.0M31.1 172.2H36.0M33.6 160.9H36.0M31.1 149.7H36.0M33.6 138.5H36.0M31.1 127.2H36.0M33.6 116.0H36.0M31.1 104.8H36.0M33.6 93.6H36.0M31.1 82.3H36.0M33.6 71.1H36.0M31.1 59.9H36.0M33.6 48.7H36.0M31.1 37.5H36.0M33.6 26.2H36.0M31.1 14.5H36.0M33.6 250.7H36.0M41.5 250.95V255.3M69.8 250.95V253.2M98.1 250.95V255.3M126.4 250.95V253.2M154.7 250.95V255.3M183.1 250.95V253.2M211.4 250.95V255.3M239.7 250.95V253.2M268.0 250.95V255.3M296.3 250.95V253.2M324.6 250.95V255.3" fill="none" stroke="#383838" stroke-width="1.05"/>
<text x="27.8" y="243.0" text-anchor="end" font-size="10">0,0</text>
<text x="27.8" y="220.6" text-anchor="end" font-size="10">0,1</text>
<text x="27.8" y="198.1" text-anchor="end" font-size="10">0,2</text>
<text x="27.8" y="175.7" text-anchor="end" font-size="10">0,3</text>
<text x="27.8" y="153.2" text-anchor="end" font-size="10">0,4</text>
<text x="27.8" y="130.8" text-anchor="end" font-size="10">0,5</text>
<text x="27.8" y="108.3" text-anchor="end" font-size="10">0,6</text>
<text x="27.8" y="85.8" text-anchor="end" font-size="10">0,7</text>
<text x="27.8" y="63.4" text-anchor="end" font-size="10">0,8</text>
<text x="27.8" y="41.0" text-anchor="end" font-size="10">0,9</text>
<text x="27.8" y="18.0" text-anchor="end" font-size="10">1,0</text>
<text x="41.5" y="267.3" text-anchor="middle" font-size="10">0</text>
<text x="98.1" y="267.3" text-anchor="middle" font-size="10">100</text>
<text x="154.7" y="267.3" text-anchor="middle" font-size="10">200</text>
<text x="211.4" y="267.3" text-anchor="middle" font-size="10">300</text>
<text x="268.0" y="267.3" text-anchor="middle" font-size="10">400</text>
<text x="324.6" y="267.3" text-anchor="middle" font-size="10">500</text>
<rect x="242.3" y="14.5" width="87.7" height="47.8" fill="#fff" stroke="#969696" stroke-width="0.65"/>
<path d="M243.3 23.2H271.4" stroke="#00ff00" stroke-width="1.05"/>
<text x="274.9" y="27.5" font-size="12.25">N1@1AI9</text>
<path d="M243.3 38.5H271.4" stroke="#ff0000" stroke-width="1.05"/>
<text x="274.9" y="42.8" font-size="12.25">N2@1AI9</text>
<path d="M243.3 53.7H271.4" stroke="#0000ff" stroke-width="1.05"/>
<text x="274.9" y="57.9" font-size="12.25">N3@1AI9</text>
<text x="190" y="8.8" text-anchor="middle" font-size="12.25">RMSD Protein_LIG after lsq fit to Complexes</text>
<text x="183.2" y="285.8" text-anchor="middle" font-size="12.3">Time (ns)</text>
<text transform="translate(9.8 133) rotate(-90)" text-anchor="middle" font-size="12">RMSD (nm)</text>
<text x="49.6" y="64.2" font-size="13.4" font-weight="bold">(a)</text>
</g>
<g>
<polyline points="395.3,223.5 395.6,210.1 396.0,225.1 396.3,209.4 396.6,221.9 397.0,214.8 397.3,223.4 397.6,214.7 398.0,222.8 398.3,215.1 398.6,221.2 399.0,205.2 399.3,220.8 399.6,209.7 400.0,219.9 400.3,209.8 400.6,217.1 401.0,208.9 401.3,216.4 401.6,208.6 402.0,217.6 402.3,210.5 402.6,219.3 403.0,207.8 403.3,216.9 403.7,209.4 404.0,216.5 404.3,206.9 404.7,215.5 405.0,208.1 405.3,220.5 405.7,210.7 406.0,219.8 406.3,207.2 406.7,218.4 407.0,207.8 407.3,221.5 407.7,209.7 408.0,217.8 408.3,208.0 408.7,221.2 409.0,208.0 409.3,220.8 409.7,207.6 410.0,220.8 410.3,206.5 410.7,219.1 411.0,207.6 411.3,215.8 411.7,207.8 412.0,219.2 412.3,205.6 412.7,216.0 413.0,207.4 413.3,217.6 413.7,208.0 414.0,216.5 414.3,204.6 414.7,216.7 415.0,206.7 415.3,215.6 415.7,207.7 416.0,217.4 416.3,208.1 416.7,216.2 417.0,205.7 417.3,216.6 417.7,205.3 418.0,214.5 418.3,207.3 418.7,217.5 419.0,207.6 419.3,218.8 419.7,207.1 420.0,218.2 420.4,210.1 420.7,219.0 421.0,210.0 421.4,219.4 421.7,208.3 422.0,218.8 422.4,209.8 422.7,220.2 423.0,210.0 423.4,218.4 423.7,210.1 424.0,218.7 424.4,210.6 424.7,218.4 425.0,209.6 425.4,218.9 425.7,206.2 426.0,215.9 426.4,205.5 426.7,219.2 427.0,206.7 427.4,216.6 427.7,205.9 428.0,217.5 428.4,204.1 428.7,218.6 429.0,208.7 429.4,218.4 429.7,204.6 430.0,217.5 430.4,207.4 430.7,218.0 431.0,209.0 431.4,219.8 431.7,210.4 432.0,217.7 432.4,208.8 432.7,218.4 433.0,208.3 433.4,216.0 433.7,208.0 434.0,218.2 434.4,208.7 434.7,216.3 435.0,205.1 435.4,215.4 435.7,203.9 436.0,212.2 436.4,203.3 436.7,212.6 437.1,204.0 437.4,210.5 437.7,200.0 438.1,214.7 438.4,203.4 438.7,214.5 439.1,203.7 439.4,214.6 439.7,203.9 440.1,214.2 440.4,204.0 440.7,215.1 441.1,205.0 441.4,213.1 441.7,204.8 442.1,214.3 442.4,205.8 442.7,215.6 443.1,202.9 443.4,214.7 443.7,204.5 444.1,214.7 444.4,204.2 444.7,218.1 445.1,204.1 445.4,215.8 445.7,204.7 446.1,216.8 446.4,207.3 446.7,216.3 447.1,207.0 447.4,217.1 447.7,202.9 448.1,215.5 448.4,205.3 448.7,215.6 449.1,204.0 449.4,212.9 449.7,203.2 450.1,214.9 450.4,203.8 450.7,214.3 451.1,203.2 451.4,217.1 451.7,200.6 452.1,215.5 452.4,203.6 452.7,216.6 453.1,205.7 453.4,213.3 453.8,205.5 454.1,211.9 454.4,203.8 454.8,217.0 455.1,204.0 455.4,218.5 455.8,205.5 456.1,214.7 456.4,204.6 456.8,215.7 457.1,204.8 457.4,216.3 457.8,203.0 458.1,215.5 458.4,205.3 458.8,215.4 459.1,206.0 459.4,214.0 459.8,205.7 460.1,217.3 460.4,203.5 460.8,217.4 461.1,204.5 461.4,217.8 461.8,206.8 462.1,217.6 462.4,203.0 462.8,215.0 463.1,204.3 463.4,218.6 463.8,203.9 464.1,214.8 464.4,205.4 464.8,216.0 465.1,206.2 465.4,214.1 465.8,203.3 466.1,215.9 466.4,205.0 466.8,215.2 467.1,206.1 467.4,215.2 467.8,205.5 468.1,217.4 468.4,206.4 468.8,219.4 469.1,203.9 469.4,216.9 469.8,205.1 470.1,217.0 470.5,206.2 470.8,215.1 471.1,205.3 471.5,216.3 471.8,205.3 472.1,215.1 472.5,203.4 472.8,212.1 473.1,201.8 473.5,215.5 473.8,199.1 474.1,211.6 474.5,200.2 474.8,215.9 475.1,198.6 475.5,215.4 475.8,202.2 476.1,216.1 476.5,197.8 476.8,213.5 477.1,202.2 477.5,215.3 477.8,201.7 478.1,215.2 478.5,201.2 478.8,216.7 479.1,201.5 479.5,217.1 479.8,203.0 480.1,213.7 480.5,200.3 480.8,213.5 481.1,201.6 481.5,214.2 481.8,202.8 482.1,214.4 482.5,199.9 482.8,214.8 483.1,203.6 483.5,215.2 483.8,202.2 484.1,213.6 484.5,201.6 484.8,214.9 485.1,200.2 485.5,215.9 485.8,200.6 486.1,215.0 486.5,202.9 486.8,213.6 487.2,202.0 487.5,216.2 487.8,203.5 488.2,215.5 488.5,204.8 488.8,216.3 489.2,204.3 489.5,215.2 489.8,202.5 490.2,214.4 490.5,202.3 490.8,213.1 491.2,204.3 491.5,214.9 491.8,202.8 492.2,215.4 492.5,203.4 492.8,214.4 493.2,201.5 493.5,213.9 493.8,201.1 494.2,212.9 494.5,202.6 494.8,215.5 495.2,203.8 495.5,213.7 495.8,203.5 496.2,218.8 496.5,203.8 496.8,215.4 497.2,200.7 497.5,214.4 497.8,203.6 498.2,213.3 498.5,203.6 498.8,215.6 499.2,201.8 499.5,213.0 499.8,202.2 500.2,211.1 500.5,200.9 500.8,212.6 501.2,202.4 501.5,211.2 501.8,200.5 502.2,210.1 502.5,199.7 502.8,209.6 503.2,195.9 503.5,208.7 503.9,196.6 504.2,209.3 504.5,196.4 504.9,208.9 505.2,198.8 505.5,207.4 505.9,196.3 506.2,208.2 506.5,198.9 506.9,207.5 507.2,197.9 507.5,207.0 507.9,196.9 508.2,205.3 508.5,196.3 508.9,207.7 509.2,198.8 509.5,206.6 509.9,199.2 510.2,206.6 510.5,200.9 510.9,207.8 511.2,197.8 511.5,208.4 511.9,195.9 512.2,208.3 512.5,197.0 512.9,211.2 513.2,198.1 513.5,206.6 513.9,198.8 514.2,207.5 514.5,197.9 514.9,207.5 515.2,198.8 515.5,211.9 515.9,197.1 516.2,210.4 516.5,196.2 516.9,210.1 517.2,190.9 517.5,209.2 517.9,187.8 518.2,211.9 518.5,186.8 518.9,207.7 519.2,187.8 519.5,206.2 519.9,189.4 520.2,209.8 520.6,187.0 520.9,208.5 521.2,187.7 521.6,208.6 521.9,187.2 522.2,207.2 522.6,187.8 522.9,206.9 523.2,188.3 523.6,205.7 523.9,190.5 524.2,207.2 524.6,186.7 524.9,207.1 525.2,185.9 525.6,206.4 525.9,186.3 526.2,207.8 526.6,189.9 526.9,205.5 527.2,190.6 527.6,204.6 527.9,190.6 528.2,204.3 528.6,193.4 528.9,205.5 529.2,193.3 529.6,209.0 529.9,197.3 530.2,205.6 530.6,197.1 530.9,207.1 531.2,199.0 531.6,207.5 531.9,198.9 532.2,209.7 532.6,201.6 532.9,210.5 533.2,200.8 533.6,208.4 533.9,200.2 534.2,210.1 534.6,200.1 534.9,210.4 535.2,200.5 535.6,209.4 535.9,199.3 536.2,209.4 536.6,197.5 536.9,210.7 537.3,197.2 537.6,208.3 537.9,197.3 538.3,211.2 538.6,196.9 538.9,211.3 539.3,197.2 539.6,209.0 539.9,197.7 540.3,209.6 540.6,200.2 540.9,208.7 541.3,195.9 541.6,211.2 541.9,202.0 542.3,210.6 542.6,199.9 542.9,210.0 543.3,203.3 543.6,212.4 543.9,201.9 544.3,211.0 544.6,200.8 544.9,208.3 545.3,200.0 545.6,209.0 545.9,200.9 546.3,213.2 546.6,200.5 546.9,213.6 547.3,197.9 547.6,213.2 547.9,201.9 548.3,214.7 548.6,199.3 548.9,212.9 549.3,202.6 549.6,214.9 549.9,203.4 550.3,213.6 550.6,201.9 550.9,211.8 551.3,204.1 551.6,212.3 551.9,202.4 552.3,213.7 552.6,202.2 553.0,212.6 553.3,200.1 553.6,209.5 554.0,202.8 554.3,211.7 554.6,201.7 555.0,211.3 555.3,201.1 555.6,208.5 556.0,197.5 556.3,209.9 556.6,198.1 557.0,211.9 557.3,200.2 557.6,210.6 558.0,199.5 558.3,212.2 558.6,200.5 559.0,210.2 559.3,199.6 559.6,208.3 560.0,198.2 560.3,209.9 560.6,199.6 561.0,209.8 561.3,199.7 561.6,208.0 562.0,198.9 562.3,210.2 562.6,199.7 563.0,209.1 563.3,199.1 563.6,211.3 564.0,200.2 564.3,212.4 564.6,200.6 565.0,213.0 565.3,200.7 565.6,209.3 566.0,201.3 566.3,208.3 566.6,200.3 567.0,210.4 567.3,199.1 567.6,210.0 568.0,200.4 568.3,209.7 568.6,199.3 569.0,209.7 569.3,199.8 569.7,209.7 570.0,199.0 570.3,209.0 570.7,199.1 571.0,209.6 571.3,200.2 571.7,211.0 572.0,198.7 572.3,209.1 572.7,200.4 573.0,210.4 573.3,198.3 573.7,208.9 574.0,198.6 574.3,211.7 574.7,200.3 575.0,210.7 575.3,199.4 575.7,211.1 576.0,198.9 576.3,211.2 576.7,198.7 577.0,210.8 577.3,198.7 577.7,209.0 578.0,200.6 578.3,210.0 578.7,202.0 579.0,208.2 579.3,199.0 579.7,208.7 580.0,198.2 580.3,207.6 580.7,198.4 581.0,207.0 581.3,197.8 581.7,209.1 582.0,200.8 582.3,208.5 582.7,200.5 583.0,211.2 583.3,199.9 583.7,209.3 584.0,201.9 584.3,210.6 584.7,201.0 585.0,210.3 585.3,198.6 585.7,210.3 586.0,198.7 586.4,209.8 586.7,198.4 587.0,210.4 587.4,197.3 587.7,210.8 588.0,196.2 588.4,210.4 588.7,196.8 589.0,209.7 589.4,196.7 589.7,208.2 590.0,195.3 590.4,208.5 590.7,198.0 591.0,210.5 591.4,198.2 591.7,207.9 592.0,198.4 592.4,207.8 592.7,198.7 593.0,208.9 593.4,198.9 593.7,207.9 594.0,198.0 594.4,207.1 594.7,198.3 595.0,208.3 595.4,196.9 595.7,207.8 596.0,196.4 596.4,209.0 596.7,200.5 597.0,209.9 597.4,200.5 597.7,209.2 598.0,197.7 598.4,209.1 598.7,198.7 599.0,209.3 599.4,197.7 599.7,209.6 600.0,198.5 600.4,209.0 600.7,197.3 601.0,209.7 601.4,195.5 601.7,208.6 602.0,197.1 602.4,206.9 602.7,198.4 603.1,208.2 603.4,201.2 603.7,208.9 604.1,198.9 604.4,209.1 604.7,198.5 605.1,209.7 605.4,196.9 605.7,207.5 606.1,195.6 606.4,207.5 606.7,197.1 607.1,206.7 607.4,196.6 607.7,205.9 608.1,195.9 608.4,205.1 608.7,195.6 609.1,208.1 609.4,198.3 609.7,210.2 610.1,197.7 610.4,208.1 610.7,195.8 611.1,207.6 611.4,197.0 611.7,205.5 612.1,196.7 612.4,207.8 612.7,196.6 613.1,207.8 613.4,196.0 613.7,206.6 614.1,194.8 614.4,205.9 614.7,195.7 615.1,207.5 615.4,194.6 615.7,205.8 616.1,196.4 616.4,206.2 616.7,199.6 617.1,207.0 617.4,200.0 617.7,207.3 618.1,198.8 618.4,205.9 618.7,196.5 619.1,208.9 619.4,194.0 619.8,206.4 620.1,193.9 620.4,206.5 620.8,194.7 621.1,206.0 621.4,197.9 621.8,210.1 622.1,197.0 622.4,208.6 622.8,199.5 623.1,208.9 623.4,197.1 623.8,207.3 624.1,198.1 624.4,207.9 624.8,195.0 625.1,207.8 625.4,195.0 625.8,208.8 626.1,197.0 626.4,208.2 626.8,197.8 627.1,208.1 627.4,198.9 627.8,209.4 628.1,199.6 628.4,207.3 628.8,197.9 629.1,208.7 629.4,199.7 629.8,210.4 630.1,197.7 630.4,208.7 630.8,198.9 631.1,207.9 631.4,196.3 631.8,207.4 632.1,199.5 632.4,209.1 632.8,196.4 633.1,207.3 633.4,198.2 633.8,208.0 634.1,198.5 634.4,210.2 634.8,200.8 635.1,211.1 635.4,195.9 635.8,208.4 636.1,196.0 636.5,208.9 636.8,195.4 637.1,208.7 637.5,195.3 637.8,206.6 638.1,197.2 638.5,208.2 638.8,196.8 639.1,207.1 639.5,196.8 639.8,205.3 640.1,193.1 640.5,209.9 640.8,196.5 641.1,206.7 641.5,196.5 641.8,206.4 642.1,197.5 642.5,206.3 642.8,197.1 643.1,205.3 643.5,194.9 643.8,205.8 644.1,192.6 644.5,205.9 644.8,194.7 645.1,208.0 645.5,194.1 645.8,209.0 646.1,196.6 646.5,206.1 646.8,197.4 647.1,206.6 647.5,197.4 647.8,206.9 648.1,194.8 648.5,204.9 648.8,196.6 649.1,206.7 649.5,195.1 649.8,207.0 650.1,196.7 650.5,208.2 650.8,194.0 651.1,210.1 651.5,196.7 651.8,210.1 652.1,197.1 652.5,206.9 652.8,197.1 653.2,210.0 653.5,195.0 653.8,207.3 654.2,198.0 654.5,209.4 654.8,197.6 655.2,211.3 655.5,194.0 655.8,209.1 656.2,199.4 656.5,209.3 656.8,196.7 657.2,209.1 657.5,197.1 657.8,208.4 658.2,195.8 658.5,208.2 658.8,198.4 659.2,210.2 659.5,197.4 659.8,207.2 660.2,197.2 660.5,207.0 660.8,195.6 661.2,208.6 661.5,193.8 661.8,208.9 662.2,195.6 662.5,211.4 662.8,195.5 663.2,208.1 663.5,194.5 663.8,207.8 664.2,194.8 664.5,205.8 664.8,198.0 665.2,209.4 665.5,195.6 665.8,208.7 666.2,198.8 666.5,211.6 666.8,198.8 667.2,209.6 667.5,198.6 667.8,210.9 668.2,198.3 668.5,215.3 668.8,199.2 669.2,211.6 669.5,201.3 669.9,211.2 670.2,196.7 670.5,210.3 670.9,197.3 671.2,208.6 671.5,195.9 671.9,206.8 672.2,194.6 672.5,204.5 672.9,194.4 673.2,203.9 673.5,194.7 673.9,205.7 674.2,196.3 674.5,206.6 674.9,189.9 675.2,205.9 675.5,194.2 675.9,204.7 676.2,192.2 676.5,202.5 676.9,191.5 677.2,203.3" fill="none" stroke="#00ff00" stroke-width="1.15" stroke-linejoin="round"/>
<polyline points="395.3,222.0 395.6,206.5 396.0,218.4 396.3,202.5 396.6,214.3 397.0,201.7 397.3,215.6 397.6,202.1 398.0,216.1 398.3,203.7 398.6,215.0 399.0,200.8 399.3,214.2 399.6,199.6 400.0,214.3 400.3,202.1 400.6,214.6 401.0,201.8 401.3,213.6 401.6,202.3 402.0,213.6 402.3,202.2 402.6,216.3 403.0,201.9 403.3,214.5 403.7,202.0 404.0,217.3 404.3,201.7 404.7,215.8 405.0,203.1 405.3,216.5 405.7,202.0 406.0,214.5 406.3,203.8 406.7,216.6 407.0,203.3 407.3,214.0 407.7,204.8 408.0,214.3 408.3,206.5 408.7,214.4 409.0,208.1 409.3,217.6 409.7,206.6 410.0,218.0 410.3,204.2 410.7,218.4 411.0,205.3 411.3,219.9 411.7,205.5 412.0,218.7 412.3,207.1 412.7,218.2 413.0,206.4 413.3,216.8 413.7,208.3 414.0,216.5 414.3,203.4 414.7,216.6 415.0,202.1 415.3,218.1 415.7,204.4 416.0,216.4 416.3,204.3 416.7,214.8 417.0,203.2 417.3,213.7 417.7,203.3 418.0,214.8 418.3,203.8 418.7,217.5 419.0,204.5 419.3,216.9 419.7,204.7 420.0,216.1 420.4,205.8 420.7,215.4 421.0,203.3 421.4,214.1 421.7,203.4 422.0,213.0 422.4,204.3 422.7,215.6 423.0,204.7 423.4,214.2 423.7,203.4 424.0,212.5 424.4,202.4 424.7,216.0 425.0,201.1 425.4,217.5 425.7,202.0 426.0,215.7 426.4,201.6 426.7,216.3 427.0,202.0 427.4,214.5 427.7,201.1 428.0,213.0 428.4,202.5 428.7,212.1 429.0,202.4 429.4,213.6 429.7,203.0 430.0,212.4 430.4,202.6 430.7,214.1 431.0,203.6 431.4,212.6 431.7,201.8 432.0,212.9 432.4,201.6 432.7,210.0 433.0,201.7 433.4,210.5 433.7,200.5 434.0,209.4 434.4,198.5 434.7,210.2 435.0,200.0 435.4,211.1 435.7,202.1 436.0,210.9 436.4,201.7 436.7,214.7 437.1,200.9 437.4,217.3 437.7,201.5 438.1,215.7 438.4,201.9 438.7,213.2 439.1,202.3 439.4,213.8 439.7,199.4 440.1,215.5 440.4,203.3 440.7,212.3 441.1,202.0 441.4,214.0 441.7,203.2 442.1,215.7 442.4,204.4 442.7,214.7 443.1,204.8 443.4,216.8 443.7,202.8 444.1,221.4 444.4,203.9 444.7,218.9 445.1,205.0 445.4,218.2 445.7,204.9 446.1,215.9 446.4,203.4 446.7,221.1 447.1,204.4 447.4,216.4 447.7,206.0 448.1,217.2 448.4,207.9 448.7,217.5 449.1,205.8 449.4,218.1 449.7,202.1 450.1,217.0 450.4,201.6 450.7,218.2 451.1,205.9 451.4,218.5 451.7,204.8 452.1,218.1 452.4,203.7 452.7,215.6 453.1,205.1 453.4,215.6 453.8,205.6 454.1,216.4 454.4,203.3 454.8,214.0 455.1,201.9 455.4,214.3 455.8,202.3 456.1,215.3 456.4,201.4 456.8,212.9 457.1,205.5 457.4,212.6 457.8,202.9 458.1,215.1 458.4,204.0 458.8,214.9 459.1,203.6 459.4,215.4 459.8,204.3 460.1,216.3 460.4,201.6 460.8,217.3 461.1,201.7 461.4,214.9 461.8,203.6 462.1,216.2 462.4,202.7 462.8,216.3 463.1,203.5 463.4,217.3 463.8,207.3 464.1,217.3 464.4,205.2 464.8,217.1 465.1,204.7 465.4,216.9 465.8,207.1 466.1,217.9 466.4,206.0 466.8,217.5 467.1,206.9 467.4,216.0 467.8,205.8 468.1,214.3 468.4,202.2 468.8,216.7 469.1,204.4 469.4,217.9 469.8,205.5 470.1,214.0 470.5,204.8 470.8,216.4 471.1,205.2 471.5,217.2 471.8,204.2 472.1,217.2 472.5,204.8 472.8,215.9 473.1,204.0 473.5,214.7 473.8,201.9 474.1,217.3 474.5,203.0 474.8,218.7 475.1,205.3 475.5,215.4 475.8,205.6 476.1,213.6 476.5,206.6 476.8,213.8 477.1,203.8 477.5,216.8 477.8,206.1 478.1,216.5 478.5,204.2 478.8,217.5 479.1,204.9 479.5,218.7 479.8,203.6 480.1,215.4 480.5,205.0 480.8,216.2 481.1,206.3 481.5,215.2 481.8,205.2 482.1,216.6 482.5,205.5 482.8,216.9 483.1,205.2 483.5,214.8 483.8,205.7 484.1,214.7 484.5,205.4 484.8,216.7 485.1,205.0 485.5,217.5 485.8,205.8 486.1,216.7 486.5,205.0 486.8,215.9 487.2,202.1 487.5,217.0 487.8,204.7 488.2,214.7 488.5,203.5 488.8,220.4 489.2,205.2 489.5,217.3 489.8,206.4 490.2,217.9 490.5,205.0 490.8,215.2 491.2,201.8 491.5,215.3 491.8,202.5 492.2,213.7 492.5,201.1 492.8,211.0 493.2,199.1 493.5,213.3 493.8,200.4 494.2,213.2 494.5,201.1 494.8,212.2 495.2,198.1 495.5,213.6 495.8,199.4 496.2,214.4 496.5,200.5 496.8,214.3 497.2,201.5 497.5,213.5 497.8,201.1 498.2,211.9 498.5,202.4 498.8,210.7 499.2,200.7 499.5,208.0 499.8,199.9 500.2,209.4 500.5,201.3 500.8,208.6 501.2,199.4 501.5,207.5 501.8,198.8 502.2,211.5 502.5,199.0 502.8,213.2 503.2,197.6 503.5,211.3 503.9,199.0 504.2,207.8 504.5,198.8 504.9,208.7 505.2,199.0 505.5,208.4 505.9,198.6 506.2,206.9 506.5,197.8 506.9,205.9 507.2,197.5 507.5,208.2 507.9,197.2 508.2,208.5 508.5,199.1 508.9,207.3 509.2,199.4 509.5,208.9 509.9,197.3 510.2,209.3 510.5,198.5 510.9,210.1 511.2,199.9 511.5,209.2 511.9,200.5 512.2,211.3 512.5,201.9 512.9,211.4 513.2,199.5 513.5,214.5 513.9,199.1 514.2,209.9 514.5,198.6 514.9,210.7 515.2,200.8 515.5,209.8 515.9,197.6 516.2,209.2 516.5,195.8 516.9,210.9 517.2,199.1 517.5,211.0 517.9,200.7 518.2,210.5 518.5,196.5 518.9,208.9 519.2,198.7 519.5,212.8 519.9,199.2 520.2,209.2 520.6,199.5 520.9,209.2 521.2,196.8 521.6,208.0 521.9,197.0 522.2,211.0 522.6,197.3 522.9,210.3 523.2,197.9 523.6,211.2 523.9,195.8 524.2,207.1 524.6,197.9 524.9,209.3 525.2,199.0 525.6,208.9 525.9,197.0 526.2,204.1 526.6,193.4 526.9,201.5 527.2,194.4 527.6,203.1 527.9,191.0 528.2,207.7 528.6,192.7 528.9,204.8 529.2,192.9 529.6,206.4 529.9,191.9 530.2,207.3 530.6,196.0 530.9,210.2 531.2,197.2 531.6,210.7 531.9,199.9 532.2,211.7 532.6,198.0 532.9,211.1 533.2,198.7 533.6,208.6 533.9,200.1 534.2,208.2 534.6,197.5 534.9,212.8 535.2,194.3 535.6,211.5 535.9,198.4 536.2,212.8 536.6,197.6 536.9,212.3 537.3,196.2 537.6,209.6 537.9,197.6 538.3,208.4 538.6,195.4 538.9,208.9 539.3,196.0 539.6,209.2 539.9,198.3 540.3,209.1 540.6,194.7 540.9,207.5 541.3,196.9 541.6,208.9 541.9,195.9 542.3,210.8 542.6,199.1 542.9,209.3 543.3,198.7 543.6,213.0 543.9,198.8 544.3,213.6 544.6,199.9 544.9,211.8 545.3,200.1 545.6,210.0 545.9,201.6 546.3,209.5 546.6,197.0 546.9,212.0 547.3,199.3 547.6,212.6 547.9,197.3 548.3,211.2 548.6,199.7 548.9,211.7 549.3,200.7 549.6,213.2 549.9,200.8 550.3,214.4 550.6,200.8 550.9,214.4 551.3,200.7 551.6,211.8 551.9,199.6 552.3,210.8 552.6,197.5 553.0,210.9 553.3,198.6 553.6,213.0 554.0,198.7 554.3,210.5 554.6,200.2 555.0,209.9 555.3,198.9 555.6,208.1 556.0,198.9 556.3,210.2 556.6,197.1 557.0,207.9 557.3,196.1 557.6,206.2 558.0,195.8 558.3,208.2 558.6,199.7 559.0,208.3 559.3,200.3 559.6,207.9 560.0,194.2 560.3,209.4 560.6,197.7 561.0,208.8 561.3,197.2 561.6,211.2 562.0,197.5 562.3,211.7 562.6,197.2 563.0,211.1 563.3,198.5 563.6,211.3 564.0,199.2 564.3,208.5 564.6,200.1 565.0,211.4 565.3,197.3 565.6,210.2 566.0,198.8 566.3,210.2 566.6,198.0 567.0,209.0 567.3,199.2 567.6,208.3 568.0,199.6 568.3,208.7 568.6,197.8 569.0,211.4 569.3,198.9 569.7,209.3 570.0,197.7 570.3,210.2 570.7,196.8 571.0,210.9 571.3,195.3 571.7,210.2 572.0,199.2 572.3,210.9 572.7,197.1 573.0,212.2 573.3,197.2 573.7,211.6 574.0,199.0 574.3,211.3 574.7,196.2 575.0,211.5 575.3,199.2 575.7,210.2 576.0,199.8 576.3,210.2 576.7,199.7 577.0,210.0 577.3,199.2 577.7,209.3 578.0,199.5 578.3,208.9 578.7,197.7 579.0,210.5 579.3,197.7 579.7,213.0 580.0,197.9 580.3,211.7 580.7,199.8 581.0,211.0 581.3,200.1 581.7,210.8 582.0,200.1 582.3,210.1 582.7,198.0 583.0,207.7 583.3,199.4 583.7,210.3 584.0,197.9 584.3,210.5 584.7,197.7 585.0,210.2 585.3,198.2 585.7,212.8 586.0,197.7 586.4,210.7 586.7,199.5 587.0,209.7 587.4,199.9 587.7,211.9 588.0,201.7 588.4,212.7 588.7,196.8 589.0,213.1 589.4,200.2 589.7,210.7 590.0,200.0 590.4,208.6 590.7,199.1 591.0,209.7 591.4,198.2 591.7,208.7 592.0,197.9 592.4,209.2 592.7,197.9 593.0,211.3 593.4,198.6 593.7,210.7 594.0,198.9 594.4,212.4 594.7,199.3 595.0,210.1 595.4,198.2 595.7,211.9 596.0,200.3 596.4,210.5 596.7,200.6 597.0,211.2 597.4,199.6 597.7,209.6 598.0,200.4 598.4,210.6 598.7,198.1 599.0,209.6 599.4,197.2 599.7,208.4 600.0,197.3 600.4,208.2 600.7,196.2 601.0,209.6 601.4,198.6 601.7,210.0 602.0,198.7 602.4,209.9 602.7,196.7 603.1,211.0 603.4,198.3 603.7,210.1 604.1,197.1 604.4,209.5 604.7,198.6 605.1,211.5 605.4,195.7 605.7,209.7 606.1,197.1 606.4,209.5 606.7,197.8 607.1,210.1 607.4,196.5 607.7,206.6 608.1,196.6 608.4,209.1 608.7,196.7 609.1,213.4 609.4,193.3 609.7,208.6 610.1,197.2 610.4,206.8 610.7,197.1 611.1,207.4 611.4,194.5 611.7,209.5 612.1,196.8 612.4,205.8 612.7,194.1 613.1,206.0 613.4,193.7 613.7,205.9 614.1,193.3 614.4,208.2 614.7,195.3 615.1,208.6 615.4,194.4 615.7,206.4 616.1,193.9 616.4,207.6 616.7,196.1 617.1,206.0 617.4,194.7 617.7,205.9 618.1,192.7 618.4,204.7 618.7,194.6 619.1,205.6 619.4,195.1 619.8,204.9 620.1,194.8 620.4,205.4 620.8,191.5 621.1,204.6 621.4,193.9 621.8,208.5 622.1,192.4 622.4,208.2 622.8,197.1 623.1,209.9 623.4,195.8 623.8,207.3 624.1,195.2 624.4,209.7 624.8,196.7 625.1,210.9 625.4,197.3 625.8,208.9 626.1,197.9 626.4,211.3 626.8,197.3 627.1,210.9 627.4,198.1 627.8,211.0 628.1,197.1 628.4,209.4 628.8,199.5 629.1,208.5 629.4,199.7 629.8,210.2 630.1,198.4 630.4,209.7 630.8,201.2 631.1,210.3 631.4,199.1 631.8,211.7 632.1,198.0 632.4,209.8 632.8,197.6 633.1,210.5 633.4,198.4 633.8,209.7 634.1,197.9 634.4,208.8 634.8,197.9 635.1,208.5 635.4,198.3 635.8,208.2 636.1,197.8 636.5,207.9 636.8,195.3 637.1,208.0 637.5,198.9 637.8,210.0 638.1,197.3 638.5,208.3 638.8,196.3 639.1,207.1 639.5,198.3 639.8,207.4 640.1,196.2 640.5,208.4 640.8,194.0 641.1,207.2 641.5,197.8 641.8,208.1 642.1,197.8 642.5,210.9 642.8,197.8 643.1,207.0 643.5,195.3 643.8,208.4 644.1,197.4 644.5,207.3 644.8,196.8 645.1,209.9 645.5,195.7 645.8,207.5 646.1,193.1 646.5,208.0 646.8,193.9 647.1,210.1 647.5,195.3 647.8,207.9 648.1,195.4 648.5,206.0 648.8,192.4 649.1,208.5 649.5,194.5 649.8,208.9 650.1,196.1 650.5,207.2 650.8,196.8 651.1,205.3 651.5,196.1 651.8,206.9 652.1,197.8 652.5,207.4 652.8,197.5 653.2,209.3 653.5,196.1 653.8,209.1 654.2,195.6 654.5,207.4 654.8,196.4 655.2,205.1 655.5,196.0 655.8,207.0 656.2,197.1 656.5,206.2 656.8,197.3 657.2,206.3 657.5,196.1 657.8,205.7 658.2,196.0 658.5,206.2 658.8,193.9 659.2,205.3 659.5,194.5 659.8,206.5 660.2,194.5 660.5,206.9 660.8,193.3 661.2,204.7 661.5,192.2 661.8,206.1 662.2,192.9 662.5,205.3 662.8,193.5 663.2,206.4 663.5,195.2 663.8,204.4 664.2,193.4 664.5,207.0 664.8,192.2 665.2,202.8 665.5,189.3 665.8,203.6 666.2,188.6 666.5,203.1 666.8,188.7 667.2,204.2 667.5,191.0 667.8,203.2 668.2,195.7 668.5,205.0 668.8,194.6 669.2,204.6 669.5,192.7 669.9,206.2 670.2,195.2 670.5,205.6 670.9,194.6 671.2,205.1 671.5,194.7 671.9,204.5 672.2,194.8 672.5,204.9 672.9,196.2 673.2,204.8 673.5,193.0 673.9,206.0 674.2,194.7 674.5,204.9 674.9,193.1 675.2,203.8 675.5,187.3 675.9,203.6 676.2,190.7 676.5,204.7 676.9,192.8 677.2,207.3" fill="none" stroke="#ff0000" stroke-width="1.15" stroke-linejoin="round"/>
<polyline points="395.3,219.9 395.6,201.0 396.0,215.9 396.3,197.9 396.6,215.7 397.0,200.2 397.3,213.1 397.6,198.1 398.0,215.1 398.3,197.0 398.6,214.7 399.0,196.3 399.3,213.8 399.6,201.2 400.0,213.3 400.3,202.1 400.6,210.8 401.0,203.5 401.3,214.2 401.6,198.3 402.0,212.3 402.3,197.1 402.6,213.1 403.0,198.5 403.3,210.7 403.7,196.2 404.0,209.6 404.3,198.4 404.7,208.5 405.0,195.4 405.3,209.8 405.7,197.6 406.0,205.6 406.3,198.4 406.7,207.9 407.0,200.6 407.3,206.6 407.7,199.5 408.0,207.7 408.3,200.3 408.7,206.9 409.0,197.2 409.3,207.8 409.7,194.9 410.0,207.7 410.3,194.2 410.7,205.7 411.0,190.9 411.3,210.2 411.7,193.2 412.0,209.7 412.3,197.8 412.7,206.0 413.0,199.7 413.3,211.9 413.7,202.1 414.0,210.7 414.3,200.7 414.7,209.3 415.0,199.3 415.3,210.3 415.7,201.6 416.0,207.5 416.3,198.8 416.7,206.7 417.0,195.8 417.3,204.5 417.7,193.2 418.0,206.1 418.3,192.2 418.7,204.1 419.0,189.0 419.3,203.1 419.7,187.2 420.0,205.6 420.4,189.1 420.7,205.6 421.0,194.0 421.4,204.7 421.7,191.2 422.0,204.9 422.4,194.2 422.7,203.0 423.0,193.6 423.4,205.0 423.7,191.5 424.0,202.3 424.4,193.8 424.7,203.8 425.0,194.2 425.4,204.1 425.7,191.6 426.0,202.7 426.4,190.0 426.7,204.7 427.0,192.0 427.4,205.0 427.7,190.0 428.0,204.1 428.4,189.4 428.7,201.6 429.0,191.2 429.4,204.8 429.7,189.9 430.0,208.2 430.4,190.1 430.7,201.9 431.0,189.2 431.4,201.8 431.7,191.8 432.0,201.2 432.4,190.6 432.7,202.6 433.0,188.9 433.4,201.1 433.7,193.2 434.0,200.8 434.4,191.6 434.7,198.3 435.0,186.5 435.4,204.2 435.7,189.5 436.0,199.2 436.4,187.5 436.7,200.8 437.1,187.5 437.4,198.4 437.7,187.9 438.1,199.1 438.4,190.8 438.7,202.8 439.1,192.3 439.4,204.1 439.7,194.2 440.1,206.2 440.4,194.3 440.7,206.1 441.1,192.8 441.4,206.4 441.7,193.4 442.1,204.8 442.4,193.5 442.7,207.2 443.1,194.4 443.4,203.5 443.7,193.3 444.1,203.4 444.4,191.6 444.7,203.5 445.1,193.9 445.4,201.6 445.7,192.3 446.1,203.7 446.4,195.2 446.7,204.6 447.1,192.4 447.4,206.5 447.7,196.2 448.1,206.9 448.4,198.2 448.7,209.5 449.1,195.0 449.4,209.8 449.7,195.6 450.1,209.7 450.4,194.1 450.7,206.5 451.1,193.9 451.4,205.6 451.7,195.6 452.1,207.0 452.4,195.5 452.7,203.8 453.1,197.0 453.4,205.2 453.8,194.3 454.1,206.1 454.4,196.6 454.8,204.1 455.1,196.8 455.4,202.9 455.8,195.1 456.1,204.5 456.4,197.7 456.8,203.7 457.1,196.5 457.4,204.0 457.8,194.5 458.1,204.0 458.4,195.4 458.8,204.2 459.1,193.2 459.4,202.3 459.8,192.6 460.1,201.5 460.4,192.5 460.8,202.9 461.1,189.2 461.4,202.5 461.8,191.8 462.1,201.8 462.4,193.8 462.8,201.9 463.1,191.7 463.4,201.1 463.8,192.8 464.1,201.9 464.4,195.0 464.8,202.2 465.1,192.8 465.4,203.7 465.8,191.5 466.1,202.0 466.4,192.6 466.8,202.4 467.1,191.6 467.4,204.1 467.8,187.6 468.1,201.2 468.4,187.8 468.8,200.4 469.1,187.9 469.4,202.5 469.8,186.7 470.1,201.4 470.5,188.4 470.8,201.7 471.1,190.3 471.5,204.1 471.8,192.7 472.1,200.9 472.5,192.8 472.8,203.8 473.1,195.5 473.5,200.8 473.8,193.0 474.1,200.9 474.5,193.3 474.8,202.2 475.1,191.0 475.5,200.6 475.8,192.8 476.1,200.6 476.5,188.0 476.8,198.9 477.1,188.2 477.5,200.2 477.8,188.6 478.1,200.8 478.5,189.2 478.8,200.9 479.1,188.8 479.5,200.9 479.8,190.0 480.1,203.6 480.5,187.9 480.8,203.9 481.1,186.4 481.5,201.7 481.8,188.0 482.1,201.8 482.5,188.5 482.8,200.5 483.1,186.6 483.5,200.9 483.8,187.3 484.1,201.9 484.5,188.3 484.8,202.6 485.1,186.5 485.5,199.3 485.8,186.1 486.1,201.7 486.5,188.1 486.8,203.0 487.2,187.6 487.5,202.9 487.8,188.2 488.2,200.7 488.5,190.9 488.8,202.1 489.2,191.4 489.5,201.4 489.8,188.3 490.2,201.1 490.5,185.3 490.8,202.6 491.2,189.1 491.5,200.4 491.8,186.0 492.2,199.9 492.5,186.4 492.8,201.0 493.2,188.0 493.5,199.6 493.8,192.0 494.2,198.8 494.5,188.7 494.8,196.9 495.2,186.2 495.5,196.6 495.8,186.0 496.2,198.3 496.5,186.9 496.8,198.1 497.2,187.3 497.5,198.1 497.8,186.8 498.2,197.1 498.5,189.2 498.8,195.2 499.2,187.1 499.5,198.9 499.8,188.5 500.2,198.7 500.5,187.8 500.8,198.5 501.2,186.4 501.5,198.2 501.8,184.7 502.2,200.0 502.5,187.0 502.8,198.6 503.2,185.1 503.5,199.0 503.9,183.6 504.2,198.0 504.5,186.5 504.9,194.8 505.2,186.9 505.5,196.6 505.9,184.6 506.2,200.7 506.5,185.0 506.9,197.1 507.2,185.0 507.5,198.2 507.9,186.2 508.2,197.7 508.5,186.9 508.9,199.1 509.2,183.8 509.5,196.8 509.9,184.5 510.2,198.2 510.5,183.8 510.9,198.2 511.2,184.1 511.5,199.1 511.9,186.0 512.2,200.6 512.5,185.5 512.9,201.3 513.2,190.0 513.5,201.1 513.9,192.9 514.2,202.2 514.5,191.5 514.9,200.2 515.2,189.5 515.5,200.2 515.9,190.2 516.2,202.6 516.5,191.7 516.9,200.1 517.2,192.8 517.5,202.2 517.9,192.0 518.2,199.2 518.5,192.3 518.9,199.3 519.2,192.0 519.5,201.0 519.9,192.8 520.2,202.2 520.6,190.3 520.9,202.1 521.2,190.1 521.6,200.0 521.9,190.4 522.2,201.8 522.6,189.6 522.9,199.8 523.2,190.6 523.6,202.4 523.9,191.9 524.2,198.8 524.6,187.1 524.9,198.9 525.2,188.4 525.6,202.0 525.9,188.6 526.2,199.9 526.6,189.9 526.9,201.5 527.2,189.9 527.6,200.8 527.9,188.2 528.2,200.7 528.6,189.9 528.9,203.0 529.2,189.8 529.6,200.1 529.9,190.0 530.2,202.7 530.6,190.7 530.9,201.8 531.2,189.4 531.6,201.7 531.9,189.9 532.2,201.7 532.6,188.7 532.9,201.2 533.2,188.3 533.6,202.6 533.9,190.4 534.2,203.1 534.6,189.4 534.9,201.0 535.2,190.2 535.6,200.3 535.9,192.4 536.2,201.8 536.6,189.6 536.9,201.8 537.3,190.6 537.6,202.3 537.9,191.4 538.3,200.5 538.6,191.7 538.9,200.8 539.3,189.7 539.6,202.1 539.9,189.6 540.3,202.5 540.6,189.9 540.9,202.8 541.3,187.1 541.6,204.3 541.9,191.8 542.3,204.9 542.6,187.0 542.9,202.8 543.3,187.9 543.6,200.8 543.9,189.8 544.3,201.6 544.6,189.0 544.9,199.1 545.3,190.7 545.6,198.4 545.9,189.2 546.3,199.4 546.6,185.8 546.9,201.9 547.3,188.7 547.6,200.2 547.9,187.8 548.3,201.4 548.6,188.8 548.9,203.5 549.3,193.1 549.6,203.7 549.9,194.5 550.3,204.2 550.6,196.1 550.9,201.8 551.3,195.7 551.6,202.4 551.9,195.7 552.3,205.4 552.6,192.5 553.0,206.4 553.3,194.0 553.6,206.9 554.0,195.9 554.3,205.8 554.6,191.4 555.0,204.4 555.3,190.6 555.6,205.9 556.0,188.9 556.3,204.4 556.6,189.8 557.0,205.1 557.3,188.5 557.6,205.2 558.0,188.5 558.3,206.5 558.6,188.9 559.0,204.3 559.3,186.6 559.6,203.7 560.0,188.0 560.3,203.7 560.6,187.6 561.0,202.5 561.3,190.3 561.6,200.6 562.0,190.9 562.3,200.1 562.6,190.2 563.0,195.6 563.3,187.7 563.6,199.0 564.0,187.7 564.3,198.3 564.6,188.3 565.0,198.1 565.3,186.1 565.6,199.1 566.0,186.0 566.3,201.2 566.6,184.1 567.0,198.7 567.3,184.1 567.6,196.3 568.0,185.3 568.3,200.3 568.6,185.3 569.0,198.3 569.3,186.5 569.7,196.0 570.0,185.9 570.3,197.9 570.7,183.9 571.0,198.9 571.3,185.8 571.7,199.7 572.0,187.2 572.3,198.9 572.7,186.9 573.0,198.2 573.3,186.8 573.7,200.7 574.0,187.6 574.3,201.0 574.7,189.4 575.0,203.6 575.3,187.7 575.7,200.3 576.0,187.4 576.3,200.7 576.7,187.9 577.0,199.0 577.3,187.7 577.7,200.0 578.0,190.1 578.3,201.3 578.7,190.8 579.0,199.6 579.3,189.6 579.7,201.6 580.0,188.9 580.3,199.5 580.7,190.8 581.0,200.4 581.3,188.5 581.7,199.7 582.0,189.4 582.3,201.7 582.7,187.3 583.0,198.7 583.3,188.1 583.7,198.5 584.0,185.5 584.3,197.2 584.7,185.8 585.0,198.3 585.3,186.0 585.7,199.5 586.0,183.3 586.4,198.5 586.7,183.4 587.0,197.4 587.4,186.0 587.7,197.5 588.0,182.6 588.4,193.3 588.7,182.5 589.0,196.3 589.4,183.8 589.7,195.3 590.0,186.9 590.4,196.8 590.7,182.7 591.0,197.0 591.4,184.1 591.7,196.5 592.0,183.7 592.4,194.5 592.7,181.5 593.0,196.3 593.4,185.6 593.7,194.3 594.0,185.6 594.4,194.2 594.7,184.9 595.0,194.3 595.4,183.4 595.7,196.9 596.0,181.4 596.4,197.4 596.7,182.1 597.0,195.4 597.4,178.7 597.7,194.9 598.0,180.1 598.4,196.5 598.7,182.4 599.0,194.2 599.4,181.8 599.7,195.2 600.0,184.3 600.4,195.7 600.7,182.7 601.0,195.5 601.4,181.2 601.7,195.9 602.0,182.6 602.4,194.4 602.7,183.7 603.1,196.6 603.4,182.5 603.7,196.0 604.1,185.4 604.4,196.9 604.7,186.1 605.1,196.1 605.4,184.5 605.7,193.8 606.1,180.9 606.4,194.8 606.7,181.5 607.1,193.9 607.4,181.7 607.7,196.0 608.1,182.8 608.4,193.6 608.7,184.9 609.1,193.7 609.4,181.8 609.7,193.6 610.1,182.3 610.4,194.1 610.7,181.5 611.1,195.4 611.4,181.7 611.7,200.3 612.1,182.8 612.4,197.3 612.7,184.6 613.1,195.6 613.4,187.5 613.7,198.9 614.1,186.6 614.4,197.1 614.7,189.3 615.1,197.9 615.4,188.1 615.7,197.5 616.1,189.8 616.4,198.2 616.7,188.1 617.1,197.5 617.4,188.3 617.7,197.3 618.1,186.6 618.4,196.5 618.7,185.6 619.1,197.8 619.4,188.1 619.8,198.7 620.1,186.8 620.4,197.9 620.8,187.6 621.1,197.2 621.4,187.7 621.8,200.5 622.1,187.6 622.4,201.9 622.8,186.0 623.1,197.3 623.4,183.8 623.8,198.7 624.1,185.4 624.4,199.9 624.8,184.7 625.1,197.7 625.4,185.3 625.8,198.4 626.1,188.3 626.4,200.0 626.8,186.6 627.1,201.4 627.4,189.6 627.8,202.2 628.1,187.3 628.4,201.1 628.8,189.7 629.1,202.9 629.4,191.5 629.8,203.7 630.1,192.2 630.4,201.4 630.8,189.7 631.1,199.6 631.4,191.7 631.8,200.6 632.1,190.5 632.4,204.2 632.8,190.5 633.1,202.5 633.4,187.3 633.8,200.4 634.1,188.7 634.4,202.6 634.8,186.4 635.1,201.4 635.4,188.6 635.8,202.7 636.1,186.8 636.5,199.2 636.8,185.1 637.1,198.0 637.5,187.2 637.8,198.2 638.1,188.5 638.5,197.8 638.8,185.2 639.1,195.7 639.5,186.6 639.8,196.5 640.1,182.9 640.5,195.6 640.8,183.6 641.1,194.7 641.5,187.4 641.8,194.4 642.1,187.4 642.5,196.0 642.8,188.3 643.1,194.9 643.5,188.0 643.8,194.2 644.1,185.5 644.5,196.5 644.8,186.9 645.1,197.0 645.5,185.1 645.8,196.6 646.1,185.8 646.5,196.8 646.8,189.1 647.1,196.7 647.5,187.4 647.8,197.2 648.1,185.0 648.5,196.0 648.8,186.0 649.1,195.2 649.5,186.2 649.8,196.1 650.1,186.9 650.5,196.5 650.8,186.0 651.1,197.3 651.5,187.7 651.8,197.9 652.1,189.0 652.5,196.2 652.8,188.1 653.2,195.7 653.5,184.9 653.8,198.5 654.2,187.7 654.5,199.6 654.8,187.5 655.2,198.1 655.5,187.9 655.8,196.4 656.2,183.4 656.5,199.6 656.8,186.0 657.2,198.2 657.5,185.4 657.8,197.2 658.2,185.5 658.5,198.0 658.8,187.5 659.2,198.6 659.5,189.2 659.8,198.5 660.2,190.6 660.5,198.5 660.8,189.4 661.2,197.7 661.5,186.6 661.8,197.5 662.2,186.9 662.5,196.3 662.8,186.8 663.2,197.2 663.5,180.6 663.8,195.6 664.2,184.3 664.5,198.0 664.8,185.8 665.2,194.2 665.5,182.8 665.8,194.2 666.2,183.3 666.5,194.8 666.8,184.5 667.2,195.3 667.5,184.0 667.8,193.0 668.2,184.0 668.5,195.5 668.8,183.5 669.2,196.4 669.5,185.4 669.9,197.6 670.2,183.7 670.5,197.6 670.9,184.3 671.2,198.6 671.5,181.2 671.9,198.1 672.2,185.6 672.5,197.2 672.9,185.2 673.2,199.5 673.5,185.7 673.9,201.6 674.2,188.6 674.5,199.9 674.9,186.1 675.2,198.5 675.5,188.6 675.9,200.1 676.2,187.0 676.5,197.0 676.9,188.3 677.2,196.2" fill="none" stroke="#0000ff" stroke-width="1.15" stroke-linejoin="round"/>
<path d="M395.0 241.0V200M530.4 178.6V195" stroke="#0000ff" stroke-width="1.3" fill="none"/>
<path d="M389.5 19.0H682.4V252.0H389.5Z" fill="none" stroke="#383838" stroke-width="1.05"/>
<path d="M384.6 240.8H389.5M387.1 229.7H389.5M384.6 218.6H389.5M387.1 207.5H389.5M384.6 196.4H389.5M387.1 185.3H389.5M384.6 174.3H389.5M387.1 163.2H389.5M384.6 152.1H389.5M387.1 141.0H389.5M384.6 129.9H389.5M387.1 118.8H389.5M384.6 107.7H389.5M387.1 96.6H389.5M384.6 85.5H389.5M387.1 74.5H389.5M384.6 63.4H389.5M387.1 52.3H389.5M384.6 41.2H389.5M387.1 30.1H389.5M384.6 19.0H389.5M387.1 251.9H389.5M395.0 252.0V256.4M423.2 252.0V254.3M451.3 252.0V256.4M479.5 252.0V254.3M507.6 252.0V256.4M535.8 252.0V254.3M564.0 252.0V256.4M592.1 252.0V254.3M620.3 252.0V256.4M648.4 252.0V254.3M676.6 252.0V256.4" fill="none" stroke="#383838" stroke-width="1.05"/>
<text x="381.3" y="244.3" text-anchor="end" font-size="10">0,0</text>
<text x="381.3" y="222.1" text-anchor="end" font-size="10">0,1</text>
<text x="381.3" y="199.9" text-anchor="end" font-size="10">0,2</text>
<text x="381.3" y="177.8" text-anchor="end" font-size="10">0,3</text>
<text x="381.3" y="155.6" text-anchor="end" font-size="10">0,4</text>
<text x="381.3" y="133.4" text-anchor="end" font-size="10">0,5</text>
<text x="381.3" y="111.2" text-anchor="end" font-size="10">0,6</text>
<text x="381.3" y="89.0" text-anchor="end" font-size="10">0,7</text>
<text x="381.3" y="66.9" text-anchor="end" font-size="10">0,8</text>
<text x="381.3" y="44.7" text-anchor="end" font-size="10">0,9</text>
<text x="381.3" y="22.5" text-anchor="end" font-size="10">1,0</text>
<text x="395.0" y="267.6" text-anchor="middle" font-size="10">0</text>
<text x="451.3" y="267.6" text-anchor="middle" font-size="10">100</text>
<text x="507.6" y="267.6" text-anchor="middle" font-size="10">200</text>
<text x="564.0" y="267.6" text-anchor="middle" font-size="10">300</text>
<text x="620.3" y="267.6" text-anchor="middle" font-size="10">400</text>
<text x="676.6" y="267.6" text-anchor="middle" font-size="10">500</text>
<rect x="594.4" y="19.0" width="88.0" height="46.5" fill="#fff" stroke="#969696" stroke-width="0.65"/>
<path d="M595.8 27.2H623.8" stroke="#00ff00" stroke-width="1.05"/>
<text x="626.9" y="31.5" font-size="12.25">N1@1AI9</text>
<path d="M595.8 42.5H623.8" stroke="#ff0000" stroke-width="1.05"/>
<text x="626.9" y="46.9" font-size="12.25">N2@1AI9</text>
<path d="M595.8 57.4H623.8" stroke="#0000ff" stroke-width="1.05"/>
<text x="626.9" y="61.6" font-size="12.25">N3@1AI9</text>
<text x="544.4" y="14" text-anchor="middle" font-size="12.25">RMSD Backbone after lsq fit to Protein</text>
<text x="536.2" y="286.1" text-anchor="middle" font-size="12.3">Time (ns)</text>
<text transform="translate(362.6 134) rotate(-90)" text-anchor="middle" font-size="12">RMSD (nm)</text>
<text x="401.5" y="67" font-size="13.4" font-weight="bold">(b)</text>
</g>
</svg></body></html>
